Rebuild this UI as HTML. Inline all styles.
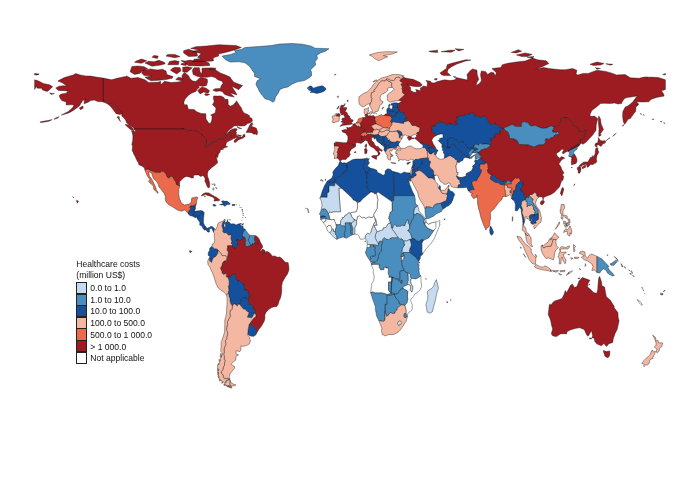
<!DOCTYPE html>
<html><head><meta charset="utf-8"><title>Healthcare costs map</title>
<style>
html,body{margin:0;padding:0;background:#fff}
body{width:700px;height:480px;position:relative;overflow:hidden;font-family:"Liberation Sans",Arial,sans-serif;color:#111}
svg{position:absolute;left:0;top:0}
path{stroke:#111;stroke-width:0.4;stroke-linejoin:round}
.a{fill:#c6dbef}
.b{fill:#4a8dbf}
.c{fill:#14509c}
.d{fill:#f4b8a2}
.e{fill:#ea6a4b}
.f{fill:#9c1c22}
.n{fill:#ffffff}
.ttl{position:absolute;left:76.3px;top:259.3px;font-size:8.55px;line-height:10.8px;white-space:nowrap}
.sw{position:absolute;left:76.2px;width:10.6px;height:12.15px;border:0.5px solid #222;box-sizing:border-box}
.lb{position:absolute;left:90.3px;font-size:8.55px;line-height:12px;white-space:nowrap}
</style></head><body>
<svg width="700" height="480" viewBox="0 0 700 480">
<path class="f" d="M103.0,78.1L103.0,101.1L106.1,101.6L109.1,104.3L112.6,102.3L116.1,105.8L119.1,110.2L122.2,111.9L122.1,114.1L121.7,115.9L124.0,117.9L125.7,120.3L126.6,122.8L128.4,124.5L131.9,126.5L134.2,128.2L134.0,129.0L183.3,129.0L183.3,128.0L184.1,129.2L186.5,130.0L187.9,130.5L189.7,131.2L190.9,130.9L193.0,131.4L195.1,130.7L201.3,134.2L201.8,135.1L202.7,135.1L203.5,136.1L203.7,136.9L205.5,138.1L206.0,142.3L205.6,143.8L205.5,144.8L204.4,145.5L204.4,146.3L205.6,147.0L208.1,145.8L211.6,144.3L211.8,143.8L211.2,142.6L212.1,142.3L215.4,142.3L216.1,141.1L218.1,139.3L219.1,138.8L224.7,138.8L224.9,138.4L226.0,137.9L226.8,136.6L227.4,134.7L228.8,132.8L230.3,132.9L231.2,133.7L231.2,137.1L232.6,138.6L234.4,138.4L235.2,138.1L237.3,136.9L237.0,138.1L234.7,139.8L234.0,141.3L234.7,142.6L236.1,142.1L238.7,139.8L243.1,138.1L245.2,136.4L244.4,133.9L243.1,135.1L242.3,137.1L239.6,136.9L238.2,136.4L237.0,135.9L236.1,133.9L236.5,131.9L234.4,131.4L235.6,131.4L237.3,129.5L236.1,128.5L232.6,129.0L230.0,130.5L227.4,133.2L225.3,134.4L226.5,133.2L228.2,130.9L230.0,129.0L231.7,128.2L233.7,126.0L237.9,125.8L241.4,126.0L244.9,125.8L247.5,123.5L250.5,122.8L252.4,121.1L251.9,118.3L249.8,117.4L249.3,115.4L246.6,114.1L244.0,112.9L242.3,110.4L241.4,108.0L239.6,105.5L237.9,103.0L236.5,100.8L235.6,102.3L233.5,104.8L230.3,106.2L228.2,104.8L228.2,102.3L227.9,99.3L224.7,99.3L223.9,97.4L220.9,95.9L217.7,96.1L213.7,95.9L213.3,98.1L214.2,101.8L212.5,104.8L216.0,108.0L215.6,110.4L215.1,112.9L210.7,114.9L212.1,116.6L211.8,120.3L210.4,123.5L208.8,123.3L208.1,122.1L206.0,119.1L205.8,113.7L201.1,113.4L196.7,111.7L194.1,109.5L188.3,109.2L187.1,104.8L184.1,104.8L183.9,101.8L185.3,98.8L188.8,94.9L191.4,93.2L195.8,91.4L197.6,88.7L199.3,87.5L198.5,85.7L202.8,86.2L206.3,85.7L207.6,82.0L207.2,79.1L202.0,77.6L200.2,77.6L195.8,81.5L192.3,80.8L189.7,78.3L188.8,75.9L184.4,72.2L181.8,75.9L182.7,78.3L181.8,81.3L178.3,82.0L171.3,82.5L164.3,81.3L160.8,85.0L160.8,81.5L157.3,82.3L148.5,82.5L145.0,79.8L138.0,77.6L131.0,78.3L126.6,75.9L125.7,76.4L117.0,78.3L111.7,79.8ZM133.8,130.5L130.1,129.2L125.2,124.8L126.1,124.3L130.5,126.0L133.1,128.5ZM120.5,121.6L117.0,116.9L119.1,116.4L119.4,119.1ZM246.1,132.4L247.9,129.0L250.1,124.5L252.1,122.5L252.8,124.5L251.0,126.5L252.8,126.7L256.3,128.2L257.1,130.2L257.7,132.7L256.8,134.9L255.4,133.9L253.6,134.2L251.9,132.7L249.3,132.4ZM237.3,134.7L241.4,135.4L240.5,136.4L237.9,135.6ZM237.0,126.7L241.7,128.7L238.7,128.2ZM242.6,85.5L238.7,89.7L234.4,87.5L231.7,86.2L236.1,93.2L237.0,94.9L230.0,92.7L234.4,97.1L229.1,96.1L224.7,94.4L222.1,91.4L219.5,90.9L216.0,91.4L212.8,90.2L215.1,88.7L220.4,88.5L221.2,85.7L223.0,83.3L222.1,81.3L217.7,79.8L215.1,77.6L211.6,76.6L206.3,77.3L201.1,77.1L197.6,76.4L193.2,74.6L192.3,70.2L194.1,67.7L199.3,67.7L200.2,72.2L202.0,73.4L202.0,68.2L206.3,68.0L209.0,68.0L213.3,68.2L216.0,70.2L220.4,72.9L225.6,75.1L230.0,77.1L231.7,79.6L233.5,82.0L237.9,83.8ZM147.6,79.1L151.1,80.8L159.0,80.3L166.0,79.6L172.2,78.3L173.0,76.6L166.9,74.6L166.0,70.9L162.5,69.2L157.3,69.9L150.3,68.9L143.3,70.4L141.5,73.1L144.1,75.6L152.0,76.1L145.0,77.3ZM134.5,74.4L130.1,71.7L131.9,66.5L138.0,66.0L144.1,66.7L147.6,68.7L142.4,70.9L139.8,73.4ZM145.0,63.0L152.0,66.2L160.8,65.0L165.2,63.8L164.3,62.3L159.0,60.3L153.8,61.8L148.5,61.3ZM134.5,62.3L141.5,63.3L146.8,60.8L141.5,59.1L136.3,61.0ZM167.8,64.7L178.3,64.7L179.2,61.5L174.8,60.6L169.5,61.5ZM180.9,64.7L186.2,65.5L186.2,63.8L181.8,63.3ZM170.4,70.2L176.6,73.9L180.9,70.9L180.1,67.7L174.8,67.2L172.2,68.5ZM182.7,71.7L187.1,72.2L192.3,67.7L187.1,66.7L182.7,67.2ZM175.7,79.6L181.8,80.8L182.7,78.1L178.3,77.3ZM180.9,60.6L188.8,65.7L201.1,66.0L209.8,65.5L209.0,63.0L204.6,61.3L194.1,61.3L190.6,60.1L185.3,61.0ZM192.3,61.5L202.8,61.5L213.3,61.0L213.3,57.8L218.6,56.1L218.6,54.1L227.4,51.9L234.4,49.9L241.4,47.5L236.1,45.5L218.6,44.7L206.3,46.0L195.8,46.7L190.6,48.4L199.3,49.9L192.3,51.2L201.1,53.6L197.6,57.3L201.1,58.6L194.1,59.3ZM183.6,52.9L188.8,56.6L197.6,56.1L196.7,52.4L188.8,49.2L183.6,50.7ZM166.0,56.1L174.8,57.8L180.1,56.6L174.8,54.4L167.8,54.4ZM152.0,57.3L157.3,58.6L158.2,56.1L153.8,55.4ZM197.6,90.7L200.2,93.9L203.7,91.9L208.1,93.2L209.5,90.7L206.3,88.2L202.0,87.0L200.2,88.2ZM204.6,94.9L207.2,95.6L209.8,94.4L205.5,93.6ZM209.8,68.0L216.0,68.2L215.1,69.9L209.8,69.9Z"/>
<path class="f" d="M134.0,129.0L183.3,129.0L183.3,128.0L184.1,129.2L186.5,130.0L187.9,130.5L189.7,131.2L190.9,130.9L193.0,131.4L195.1,130.7L201.3,134.2L201.8,135.1L202.7,135.1L203.5,136.1L203.7,136.9L205.5,138.1L206.0,142.3L205.6,143.8L205.5,144.8L204.4,145.5L204.4,146.3L205.6,147.0L208.1,145.8L211.6,144.3L211.8,143.8L211.2,142.6L212.1,142.3L215.4,142.3L216.1,141.1L218.1,139.3L219.1,138.8L224.7,138.8L224.9,138.4L226.0,137.9L226.8,136.6L227.4,134.7L228.8,132.8L230.3,132.9L231.2,133.7L231.2,137.1L232.6,138.6L232.6,139.3L230.0,140.6L227.4,141.8L226.1,143.5L226.0,144.8L225.6,145.5L226.3,146.5L227.4,146.3L227.4,147.0L225.3,147.5L223.9,148.0L220.9,148.7L223.9,149.0L220.7,149.7L220.4,150.2L220.0,152.2L218.8,153.7L217.7,152.4L218.4,154.2L218.1,156.1L216.8,158.6L216.3,154.9L216.0,158.1L217.0,159.6L217.7,162.8L216.0,164.3L213.5,166.3L211.6,167.7L209.8,169.5L208.1,171.0L207.4,173.9L207.6,176.4L208.8,179.6L209.8,183.8L209.5,187.3L208.3,188.0L206.9,186.0L206.2,183.8L204.9,181.3L205.1,178.4L203.7,176.1L202.5,175.7L200.6,176.6L198.5,174.9L195.8,174.9L193.5,175.2L193.4,177.9L191.4,177.9L189.2,176.9L186.2,176.4L184.1,177.4L181.8,179.6L179.7,181.8L179.5,184.5L179.8,185.9L176.4,184.8L175.7,182.1L174.3,180.1L172.3,176.4L170.1,176.6L169.2,178.4L166.9,176.9L166.2,174.4L163.6,171.6L160.4,171.5L160.4,172.6L155.4,172.6L148.9,169.7L149.0,169.2L144.8,169.7L144.5,168.0L142.6,166.5L141.2,165.8L138.9,164.8L138.5,163.1L136.4,159.6L135.4,156.9L134.5,155.4L133.1,152.4L132.1,150.2L132.6,146.8L131.9,144.3L132.8,140.1L132.9,135.9L132.6,134.2L131.5,130.5L134.2,130.9L135.6,133.2L135.2,130.2ZM103.0,78.1L103.0,101.1L106.1,101.6L109.1,104.3L112.6,102.3L116.1,105.8L119.1,110.2L122.2,111.9L122.1,114.1L119.6,114.4L116.1,113.7L113.8,110.4L111.2,107.2L110.0,105.8L107.3,103.8L104.7,102.5L102.1,101.8L97.7,101.6L94.2,100.1L90.7,100.6L88.1,102.3L84.0,103.8L84.6,99.8L86.3,98.8L82.8,100.6L81.1,103.0L79.8,105.5L76.7,108.0L73.2,110.4L68.8,112.9L65.3,114.1L61.3,115.1L64.4,113.4L67.9,111.7L72.3,108.0L74.1,105.3L72.3,104.8L69.7,104.8L66.2,105.0L66.2,102.0L61.8,100.6L60.0,98.1L59.2,95.6L61.3,94.1L66.2,93.2L67.9,90.9L64.4,90.7L58.3,90.4L55.7,88.0L59.2,86.2L63.5,85.7L67.1,86.0L64.4,84.3L61.8,82.5L57.8,81.1L60.0,79.8L64.4,77.6L67.9,76.4L73.2,75.1L75.6,73.6L80.2,74.9L85.4,75.9L90.7,76.1L96.0,77.1ZM79.3,108.0L82.8,106.0L83.2,108.2L80.5,109.7ZM59.2,116.6L55.7,118.1L53.9,119.3L57.4,118.3ZM52.2,119.6L47.8,120.6L44.3,121.1L39.9,122.1L41.6,122.5L48.7,121.3ZM49.5,92.9L52.2,93.6L54.3,93.6L51.3,94.4ZM76.7,200.1L78.6,201.6L77.2,203.2L76.7,201.3ZM72.8,196.6L73.7,197.4L73.0,197.4Z"/>
<path class="e" d="M144.8,169.7L149.0,169.2L148.9,169.7L155.4,172.6L160.4,172.6L160.4,171.5L163.6,171.6L166.2,174.4L166.9,176.9L169.2,178.4L170.1,176.6L172.3,176.4L174.3,180.1L175.7,182.1L176.4,184.8L179.8,185.9L178.8,189.5L178.7,194.4L179.5,198.6L181.1,202.3L182.2,203.8L184.4,205.0L187.1,204.6L188.8,204.1L190.6,203.3L191.4,201.1L191.6,198.6L191.8,198.1L194.1,197.4L196.7,196.9L197.9,197.6L196.9,200.1L196.7,201.8L196.2,204.8L195.6,204.3L195.3,204.3L193.8,206.0L190.6,206.0L190.6,207.4L189.8,207.4L191.5,210.3L189.3,210.3L188.5,212.3L188.5,214.1L185.7,210.7L184.4,210.0L181.8,211.2L178.7,210.6L175.3,208.8L172.2,206.5L168.7,204.8L166.0,201.8L165.2,199.6L165.5,196.9L164.3,193.7L161.7,190.0L159.0,187.0L158.2,184.1L156.4,181.3L153.8,178.9L152.4,175.9L151.7,172.9L149.0,171.7L148.9,173.4L149.4,175.9L152.0,179.6L153.8,183.3L155.5,187.0L156.4,190.0L158.2,192.4L157.5,193.4L156.8,192.0L153.8,189.5L153.3,185.8L150.3,183.3L148.5,181.3L149.9,179.4L147.3,175.9L145.7,172.2Z"/>
<path class="c" d="M188.5,214.1L188.5,212.3L189.3,210.3L191.5,210.3L189.8,207.4L190.6,207.4L190.6,206.0L193.8,206.0L193.8,210.7L194.2,210.7L195.4,211.2L193.8,213.7L193.5,214.4L192.1,216.0L190.0,215.7Z"/>
<path class="c" d="M195.3,204.3L195.6,204.3L195.6,206.8L195.3,209.2L194.2,210.7L193.8,210.7L193.8,206.0Z"/>
<path class="c" d="M192.1,216.0L193.5,214.4L194.9,215.5L196.2,215.7L196.2,216.9L196.2,217.4L194.9,217.5L193.5,216.8Z"/>
<path class="c" d="M195.4,211.2L196.7,210.9L199.3,210.7L201.1,210.5L202.8,211.0L204.2,212.9L202.0,213.7L200.2,215.4L199.0,215.9L198.1,217.1L197.1,217.9L196.2,216.9L196.2,215.7L194.9,215.5L193.5,214.4L193.8,213.7Z"/>
<path class="c" d="M204.2,212.9L203.9,215.4L203.5,219.1L203.4,221.6L203.4,223.0L201.6,222.8L199.9,222.6L198.5,220.4L197.1,218.4L197.1,217.9L198.1,217.1L199.0,215.9L200.2,215.4L202.0,213.7Z"/>
<path class="c" d="M203.4,223.0L204.6,225.3L205.3,226.4L204.8,227.8L204.8,230.1L203.4,228.8L203.5,229.3L202.0,226.5L201.1,225.5L199.7,225.1L199.9,222.6L201.6,222.8Z"/>
<path class="c" d="M205.3,226.4L207.2,228.3L209.8,227.3L210.7,226.3L212.5,226.8L214.4,228.6L213.5,232.2L212.6,230.2L211.6,228.0L210.4,228.8L209.1,229.7L209.8,231.7L208.3,232.2L206.9,231.2L206.0,229.7L204.8,230.1L204.8,227.8Z"/>
<path class="f" d="M201.2,196.0L202.8,193.9L205.5,192.8L209.0,192.9L211.6,194.7L214.2,196.2L216.8,197.6L220.0,200.1L218.6,200.8L213.9,201.0L214.7,199.1L212.5,196.9L209.0,195.7L206.7,195.2L206.0,194.2L203.7,195.2ZM204.4,196.2L205.3,195.9L205.1,196.9Z"/>
<path class="c" d="M212.7,204.8L214.2,204.3L216.3,205.5L214.7,206.3L213.0,205.5Z"/>
<path class="c" d="M219.6,204.7L221.2,204.1L223.2,204.2L222.5,202.8L221.4,201.3L223.0,200.7L224.3,201.3L224.4,203.8L224.3,205.4L223.0,205.0Z"/>
<path class="c" d="M224.3,201.3L226.5,201.1L227.5,201.5L228.8,202.3L230.3,204.1L229.1,204.6L227.4,204.6L226.3,205.0L224.9,206.5L224.3,205.4L224.4,203.8Z"/>
<path class="c" d="M232.3,204.3L235.1,204.6L234.9,205.5L232.3,205.7Z"/>
<path class="n" d="M213.0,188.0L213.9,188.0L213.9,190.2L212.8,190.0ZM211.8,184.1L213.5,184.1L212.5,184.5ZM214.4,183.6L215.1,184.8L214.7,186.0ZM215.6,187.0L216.5,187.8L216.5,189.0Z"/>
<path class="c" d="M241.6,225.1L243.3,223.3L243.1,225.1Z"/>
<path class="b" d="M273.1,102.3L269.4,100.1L265.0,98.8L262.4,95.6L259.4,91.4L258.0,88.2L255.9,84.5L257.1,80.8L260.6,78.8L254.5,76.4L254.5,73.4L251.9,69.7L249.3,66.0L244.9,62.8L239.6,61.8L230.0,62.0L225.6,59.8L223.0,57.3L222.1,56.1L230.9,54.4L236.1,52.4L234.4,50.4L241.4,49.4L244.9,47.5L258.9,46.5L271.2,45.5L279.9,44.0L292.2,43.5L302.7,44.2L311.5,46.2L315.0,48.2L329.0,48.7L325.5,51.2L320.2,53.1L316.7,55.4L317.6,58.6L315.0,61.8L315.8,64.7L313.2,67.2L310.6,69.7L311.5,72.2L311.5,75.9L308.8,78.1L304.4,80.6L297.4,81.8L292.2,84.0L287.8,87.0L283.4,88.0L279.9,89.4L278.2,93.2L275.5,96.9L274.7,100.6Z"/>
<path class="c" d="M307.1,88.2L309.7,86.0L311.5,86.0L313.2,88.2L317.6,86.7L322.0,85.7L324.4,87.0L326.2,89.0L324.6,90.9L321.1,92.4L316.7,93.4L313.2,92.4L310.2,92.4L311.5,91.2L308.0,89.7L311.5,89.2Z"/>
<path class="d" d="M214.4,228.6L215.4,230.2L216.3,228.0L217.5,226.3L217.7,223.8L219.0,222.6L220.0,222.1L222.1,221.6L223.9,219.9L225.1,219.2L225.4,220.4L225.0,220.7L223.9,221.3L223.0,222.6L222.1,225.8L222.5,227.5L223.2,229.3L223.0,231.5L223.9,232.7L226.1,232.5L228.4,234.9L231.8,234.7L231.2,236.9L231.1,238.9L232.1,241.6L231.1,243.1L232.3,244.1L232.8,247.0L232.8,247.0L232.4,245.8L230.5,245.7L227.6,245.8L227.6,247.4L228.8,247.5L227.3,248.6L227.3,250.4L228.1,251.2L228.4,252.7L227.4,260.4L227.4,260.4L226.1,259.4L227.3,256.7L224.7,255.6L222.1,255.7L220.4,252.7L218.2,250.3L218.2,250.3L216.3,249.0L214.4,249.0L213.0,247.8L211.9,246.5L212.3,244.1L213.9,243.6L214.7,240.6L214.2,236.4L214.4,233.7L213.5,232.2Z"/>
<path class="c" d="M225.0,220.7L224.6,223.0L223.9,225.3L224.7,227.5L225.6,226.8L225.3,223.8L224.7,223.0L227.0,221.8L227.4,219.9L227.7,221.6L230.3,223.1L230.5,224.1L234.0,223.8L236.1,225.1L237.9,224.1L240.5,223.6L241.6,223.6L240.0,224.3L240.5,225.3L243.1,226.5L243.5,228.8L244.9,229.0L245.2,229.5L243.7,231.5L242.8,233.5L242.4,235.3L243.6,237.2L243.6,237.2L241.4,239.9L240.0,240.9L237.9,239.9L236.8,239.9L237.5,241.8L237.5,243.8L238.9,244.6L237.8,245.9L235.4,248.1L233.8,248.1L232.8,247.0L232.8,247.0L232.3,244.1L231.1,243.1L232.1,241.6L231.1,238.9L231.2,236.9L231.8,234.7L228.4,234.9L226.1,232.5L223.9,232.7L223.0,231.5L223.2,229.3L222.5,227.5L222.1,225.8L223.0,222.6L223.9,221.3L225.0,220.7Z"/>
<path class="b" d="M245.2,229.5L247.5,232.7L249.1,234.4L249.9,235.3L249.6,237.2L248.6,238.6L248.4,240.4L249.1,241.7L249.8,243.1L251.0,245.3L251.0,245.3L248.4,246.3L246.8,246.9L245.4,245.4L245.0,243.6L245.7,240.4L245.1,238.9L244.6,237.2L243.6,237.2L243.6,237.2L242.4,235.3L242.8,233.5L243.7,231.5L245.2,229.5Z"/>
<path class="b" d="M249.9,235.3L251.9,235.6L253.6,235.3L255.4,235.7L254.7,237.7L254.6,240.1L255.4,241.4L254.3,244.2L254.3,244.2L252.1,243.8L252.0,245.4L251.0,245.3L251.0,245.3L249.8,243.1L249.1,241.7L248.4,240.4L248.6,238.6L249.6,237.2L249.9,235.3Z"/>
<path class="f" d="M255.4,235.7L257.1,236.4L258.4,237.9L259.4,239.4L259.5,240.0L258.4,242.1L257.3,244.6L254.3,244.2L254.3,244.2L255.4,241.4L254.6,240.1L254.7,237.7L255.4,235.7Z"/>
<path class="f" d="M259.5,240.0L260.6,242.6L262.4,245.6L262.6,247.5L260.6,249.8L259.8,251.5L261.3,250.7L261.9,249.5L263.1,249.3L265.2,250.7L264.9,253.2L262.8,254.2L264.3,254.0L265.2,253.0L265.9,251.7L267.7,251.5L270.3,253.5L272.4,256.2L274.7,255.9L277.3,257.2L279.9,257.0L282.5,259.1L284.8,261.9L288.2,262.8L288.9,267.5L288.9,270.0L287.5,274.0L285.2,277.2L282.5,282.1L281.7,285.8L281.7,290.8L281.3,294.5L280.4,298.4L279.4,300.1L278.2,304.3L276.4,306.7L274.3,306.7L271.7,307.6L268.9,309.3L266.1,312.2L264.9,314.7L264.9,318.2L264.5,320.6L262.4,324.6L260.6,327.3L258.7,329.5L256.5,333.4L256.3,331.8L256.8,330.8L254.5,327.8L252.6,326.2L250.5,324.3L249.1,324.6L249.1,324.6L251.9,320.4L252.4,319.7L254.0,317.9L255.7,317.1L256.0,314.7L254.3,313.2L254.3,313.2L254.9,309.5L252.9,309.2L252.6,305.8L251.0,304.6L248.6,304.6L248.6,301.3L248.1,299.8L248.1,299.8L249.3,295.0L247.7,292.5L247.8,290.3L244.5,290.1L244.4,287.3L244.0,284.1L241.7,283.3L239.6,281.2L237.2,280.8L235.6,278.4L235.6,276.9L235.4,274.0L233.3,274.5L229.8,277.4L228.1,277.0L228.1,277.0L226.3,277.2L226.4,273.3L223.5,274.7L223.3,273.5L221.8,273.2L222.2,272.2L220.4,268.3L220.9,267.0L221.8,266.1L222.5,262.7L224.0,261.1L226.0,260.4L227.4,260.4L227.4,260.4L228.4,252.7L228.1,251.2L227.3,250.4L227.3,248.6L228.8,247.5L227.6,247.4L227.6,245.8L230.5,245.7L232.4,245.8L232.8,247.0L232.8,247.0L233.8,248.1L235.4,248.1L237.8,245.9L238.9,244.6L237.5,243.8L237.5,241.8L236.8,239.9L237.9,239.9L240.0,240.9L241.4,239.9L243.6,237.2L243.6,237.2L244.6,237.2L245.1,238.9L245.7,240.4L245.0,243.6L245.4,245.4L246.8,246.9L248.4,246.3L251.0,245.3L251.0,245.3L252.0,245.4L252.1,243.8L254.3,244.2L254.3,244.2L257.3,244.6L258.4,242.1L259.5,240.0Z"/>
<path class="c" d="M211.9,246.5L209.7,248.0L209.7,250.2L208.3,252.6L208.2,255.4L209.8,256.2L209.3,258.4L209.2,258.4L209.5,260.6L210.9,262.1L211.6,262.4L212.6,259.4L213.7,257.4L215.8,256.4L217.6,253.8L218.2,250.3L218.2,250.3L216.3,249.0L214.4,249.0L213.0,247.8L211.9,246.5ZM189.5,250.7L190.6,250.7L190.9,252.5L189.9,252.5ZM191.4,251.2L192.0,251.2L191.8,252.0Z"/>
<path class="d" d="M209.2,258.4L207.6,260.9L208.1,264.8L210.0,267.0L210.7,269.3L212.3,272.5L213.9,276.7L214.8,279.8L216.3,284.3L218.2,288.0L221.2,290.3L223.9,292.2L225.8,294.0L226.7,295.3L228.2,293.2L228.2,293.2L229.1,290.3L228.8,287.8L228.4,286.6L229.3,285.1L229.3,281.1L228.1,277.0L228.1,277.0L226.3,277.2L226.4,273.3L223.5,274.7L223.3,273.5L221.8,273.2L222.2,272.2L220.4,268.3L220.9,267.0L221.8,266.1L222.5,262.7L224.0,261.1L226.0,260.4L227.4,260.4L227.4,260.4L226.1,259.4L227.3,256.7L224.7,255.6L222.1,255.7L220.4,252.7L218.2,250.3L218.2,250.3L217.6,253.8L215.8,256.4L213.7,257.4L212.6,259.4L211.6,262.4L210.9,262.1L209.5,260.6L209.2,258.4Z"/>
<path class="c" d="M228.2,293.2L229.1,290.3L228.8,287.8L228.4,286.6L229.3,285.1L229.3,281.1L228.1,277.0L228.1,277.0L229.8,277.4L233.3,274.5L235.4,274.0L235.6,276.9L235.6,278.4L237.2,280.8L239.6,281.2L241.7,283.3L244.0,284.1L244.4,287.3L244.5,290.1L247.8,290.3L247.7,292.5L249.3,295.0L248.1,299.8L248.1,299.8L246.5,297.7L241.9,298.4L240.9,300.6L240.2,305.0L240.2,305.0L240.0,304.3L238.0,304.3L237.2,306.2L235.8,304.6L233.8,303.8L232.3,306.3L232.3,306.3L230.5,303.1L230.0,300.9L230.0,298.2L229.1,296.9L228.9,295.0L228.2,293.2Z"/>
<path class="c" d="M254.3,313.2L254.9,309.5L252.9,309.2L252.6,305.8L251.0,304.6L248.6,304.6L248.6,301.3L248.1,299.8L248.1,299.8L246.5,297.7L241.9,298.4L240.9,300.6L240.2,305.0L240.2,305.0L243.1,308.8L244.9,309.3L247.0,311.3L249.1,312.5L247.3,317.3L251.2,317.7L252.1,317.6L254.3,313.2Z"/>
<path class="c" d="M256.5,333.4L256.3,331.8L256.8,330.8L254.5,327.8L252.6,326.2L250.5,324.3L249.1,324.6L249.1,324.6L248.7,326.6L248.2,329.0L248.0,331.5L247.7,333.7L248.7,335.2L251.5,336.2L253.8,336.3L255.7,335.0Z"/>
<path class="d" d="M232.3,306.3L233.8,303.8L235.8,304.6L237.2,306.2L238.0,304.3L240.0,304.3L240.2,305.0L240.2,305.0L243.1,308.8L244.9,309.3L247.0,311.3L249.1,312.5L247.3,317.3L251.2,317.7L252.1,317.6L254.3,313.2L254.3,313.2L256.0,314.7L255.7,317.1L254.0,317.9L252.4,319.7L251.9,320.4L249.1,324.6L249.1,324.6L248.7,326.6L248.2,329.0L248.0,331.5L247.7,333.7L247.7,335.2L249.8,337.4L249.6,339.4L250.7,340.2L249.3,343.9L246.6,345.6L243.1,346.3L241.0,345.8L240.9,350.0L240.0,351.5L236.1,350.8L236.1,353.7L238.6,355.0L236.1,356.2L235.6,360.2L233.5,361.6L231.7,363.6L231.7,364.9L234.7,366.6L234.5,368.3L231.7,371.5L230.0,374.0L229.1,377.2L230.1,379.2L228.2,378.8L227.4,378.4L224.0,378.4L223.2,377.5L223.3,375.2L221.8,374.0L221.2,371.8L222.8,369.8L223.3,367.1L224.4,365.3L224.6,362.4L225.1,360.7L224.2,359.2L224.4,356.7L223.7,354.5L224.2,352.0L224.0,349.3L224.9,346.3L225.8,344.4L225.4,340.6L226.7,339.2L226.7,336.9L227.7,334.5L227.5,332.3L226.5,330.0L226.8,327.1L227.5,324.6L227.5,321.6L228.8,318.9L230.3,316.4L229.8,312.7L230.2,310.5L232.1,309.3L232.3,306.3ZM229.8,380.0L229.8,385.6L233.5,386.0L235.9,385.0L233.5,384.1L231.2,382.9L230.3,380.9Z"/>
<path class="d" d="M226.7,295.3L228.2,293.2L228.2,293.2L228.9,295.0L229.1,296.9L230.0,298.2L230.0,300.9L230.5,303.1L232.3,306.3L232.3,306.3L232.1,309.3L230.2,310.5L229.8,312.7L230.3,316.4L228.8,318.9L227.5,321.6L227.5,324.6L226.8,327.1L226.5,330.0L227.5,332.3L227.7,334.5L226.7,336.9L226.7,339.2L225.4,340.6L225.8,344.4L224.9,346.3L224.0,349.3L224.2,352.0L223.7,354.5L224.4,356.7L224.2,359.2L225.1,360.7L224.6,362.4L224.4,365.3L223.3,367.1L222.8,369.8L221.2,371.8L221.8,374.0L223.3,375.2L223.2,377.5L224.0,378.4L227.4,378.4L228.2,378.8L230.1,379.2L228.2,379.7L226.0,380.4L225.8,382.4L225.1,383.1L223.0,381.7L221.2,380.4L219.1,378.9L218.1,374.7L217.7,371.0L217.5,365.3L219.5,363.1L220.4,358.7L222.1,355.0L222.5,353.0L220.7,351.3L220.9,348.6L221.2,345.1L221.1,341.9L221.9,340.6L222.8,337.7L224.0,334.0L224.6,331.5L224.7,327.8L224.9,324.1L224.7,320.4L225.8,316.7L226.5,312.7L226.7,308.0L227.0,304.3L227.1,299.9ZM229.8,380.0L226.7,380.4L225.8,382.9L223.9,384.4L227.4,386.3L229.8,385.6ZM227.4,386.6L230.9,386.3L232.1,388.2L229.1,387.3ZM220.0,357.0L220.9,353.2L221.4,354.5L221.1,357.2Z"/>
<path class="d" d="M219.0,359.2L220.0,360.2L219.3,361.6ZM218.2,363.4L219.3,364.1L218.4,365.1ZM217.9,368.8L219.1,369.5L218.1,371.0ZM217.9,372.0L219.0,373.0L217.9,374.5ZM218.2,375.5L219.3,376.5L218.4,377.7ZM219.3,379.4L220.7,380.2L219.7,381.2ZM221.8,381.7L223.2,382.6L221.8,383.4ZM223.9,384.1L225.6,384.6L224.2,385.6ZM226.5,385.6L228.8,385.9L227.4,386.8ZM229.1,386.6L231.7,386.6L230.3,387.6Z"/>
<path class="f" d="M652.2,119.1L653.8,119.2L653.1,119.8ZM660.5,121.3L661.9,121.6L661.0,122.1ZM663.6,122.8L664.8,123.0L664.1,123.5Z"/>
<path class="c" d="M241.7,209.7L242.8,209.5L242.3,210.6ZM242.8,213.3L243.4,213.7L243.1,214.3ZM242.3,211.5L242.7,211.7L242.5,212.3ZM243.0,215.3L243.3,215.7L243.0,216.0ZM245.5,217.1L245.8,217.5L245.6,217.8ZM241.8,219.9L242.1,220.1L241.8,220.4ZM242.7,217.0L242.9,217.3L242.7,217.5ZM239.9,207.0L240.3,207.3L240.1,207.6ZM241.6,207.6L241.9,207.8L241.6,208.0ZM239.4,204.9L239.7,205.0L239.5,205.3ZM236.3,204.6L236.8,204.7L236.5,204.8ZM228.8,219.4L229.5,219.9L229.1,220.1ZM230.2,219.6L230.5,220.1L230.3,220.2ZM227.3,218.9L227.5,219.2L227.4,219.4Z"/>
<path class="d" d="M369.4,104.0L368.4,103.8L366.6,104.8L364.0,106.5L362.3,106.7L359.8,104.8L359.1,103.0L358.8,99.3L358.9,96.9L361.4,94.9L364.0,93.2L367.2,91.9L369.3,89.9L371.9,87.0L373.7,84.0L376.3,82.0L378.0,80.1L381.5,78.1L385.0,77.1L388.5,76.1L392.0,74.6L395.2,74.4L399.1,74.6L404.3,76.1L401.7,76.9L404.0,77.6L400.8,79.6L399.1,77.0L395.6,77.8L395.0,79.6L393.6,80.6L390.3,80.3L387.7,78.8L386.0,79.4L385.0,81.1L381.7,80.8L378.9,83.3L377.0,86.5L375.4,88.7L374.0,90.4L374.7,91.4L371.4,92.9L371.2,97.6L372.4,98.6L371.5,99.6L371.9,101.3L370.7,102.3L370.5,104.3ZM372.8,82.0L377.2,80.6L376.3,79.8L373.7,81.1ZM334.2,74.9L336.0,74.1L335.6,74.9ZM369.3,54.9L378.0,52.4L386.8,51.7L397.3,51.9L392.0,54.1L383.3,55.6L387.7,56.8L383.3,58.6L378.9,60.8L374.5,58.6L372.8,56.8Z"/>
<path class="d" d="M369.4,104.0L369.8,106.0L370.8,107.5L371.9,110.0L372.3,111.4L372.8,113.2L374.9,113.2L375.2,111.7L378.0,111.2L378.9,109.2L379.3,107.2L379.8,105.3L382.4,103.5L383.1,101.6L380.3,100.1L380.1,97.6L380.7,95.6L382.4,93.9L385.9,92.4L387.7,90.4L387.3,88.7L389.1,87.5L392.3,87.5L391.5,85.7L391.9,83.8L391.2,82.3L387.7,80.6L386.0,79.4L385.0,81.1L381.7,80.8L378.9,83.3L377.0,86.5L375.4,88.7L374.0,90.4L374.7,91.4L371.4,92.9L371.2,97.6L372.4,98.6L371.5,99.6L371.9,101.3L370.7,102.3L370.5,104.3ZM381.9,109.0L382.9,107.0L383.6,107.0L382.6,109.2Z"/>
<path class="d" d="M392.3,87.5L394.3,89.2L392.9,90.7L389.4,93.2L387.3,94.9L387.3,98.1L387.3,100.1L389.4,101.8L390.3,102.2L393.8,101.3L398.7,100.4L400.8,98.6L402.6,96.9L405.2,94.6L402.7,92.7L402.6,90.7L402.0,88.2L402.7,87.0L401.0,84.8L402.6,82.8L399.9,80.8L400.8,79.6L399.1,77.0L395.6,77.8L395.0,79.6L393.6,80.6L390.3,80.3L387.7,78.8L386.0,79.4L387.7,80.6L391.2,82.3L391.9,83.8L391.5,85.7Z"/>
<path class="d" d="M365.1,114.4L364.2,112.9L364.2,110.4L364.4,109.0L366.6,108.7L368.6,107.5L368.2,110.4L369.1,110.7L367.9,111.9L367.0,113.7L367.3,114.6ZM369.3,112.4L371.0,111.4L372.1,112.4L371.4,113.7L370.5,114.4L369.4,113.7ZM367.2,113.2L368.9,113.2L368.6,114.0L367.5,114.0ZM337.0,96.4L338.6,96.1L338.1,97.8ZM375.8,113.4L376.5,113.8L376.1,114.1Z"/>
<path class="f" d="M365.1,114.4L367.3,114.6L369.1,116.6L369.3,115.6L371.5,115.9L373.7,115.4L374.9,116.9L375.2,118.6L374.7,119.6L375.8,121.3L375.8,122.8L376.3,124.0L375.1,124.0L372.8,125.3L371.2,125.8L371.9,127.0L374.2,129.5L373.5,130.5L372.4,132.2L372.8,132.7L371.4,132.4L368.4,132.7L366.8,132.7L365.1,132.2L363.3,132.4L363.3,130.7L364.4,129.0L361.2,127.7L360.7,126.3L360.5,124.6L360.3,123.8L360.9,122.1L361.9,121.6L362.3,120.3L362.6,118.6L362.3,117.4L364.0,117.4L364.9,117.6L365.6,116.6L365.1,115.6Z"/>
<path class="e" d="M362.6,118.6L362.3,120.3L361.9,121.6L360.9,122.1L360.3,123.8L360.5,124.6L360.0,124.5L360.2,123.7L358.8,122.9L357.5,123.2L356.0,123.2L357.0,121.8L357.9,120.6L358.2,119.1L359.6,118.3L361.4,117.9Z"/>
<path class="d" d="M356.0,123.2L357.5,123.2L358.8,122.9L360.2,123.7L360.0,124.5L360.5,124.6L360.7,126.3L360.2,127.6L358.5,126.1L357.4,126.6L355.4,124.5L354.5,123.8Z"/>
<path class="d" d="M361.2,127.7L360.7,126.3L360.2,127.6Z"/>
<path class="f" d="M354.5,123.8L352.8,124.3L352.8,126.0L350.4,127.2L347.9,128.0L347.4,127.2L346.7,127.2L347.2,129.8L344.7,129.5L341.8,130.5L342.5,131.9L345.6,133.2L346.5,134.4L347.9,136.4L347.9,139.8L346.8,142.8L347.7,143.5L351.2,144.5L353.0,145.0L355.6,145.1L355.4,143.5L357.0,142.6L359.3,143.0L360.9,143.5L363.1,141.9L363.5,140.8L362.1,140.1L362.3,138.4L361.9,136.8L362.3,136.6L361.9,135.4L360.7,135.9L360.7,134.9L362.3,132.9L363.3,132.4L363.3,130.7L364.4,129.0L361.2,127.7L360.2,127.6L358.5,126.1L357.4,126.6L355.4,124.5ZM365.1,145.3L366.5,143.8L366.7,146.0L366.1,147.7L365.1,146.5Z"/>
<path class="f" d="M346.8,142.8L343.3,142.7L340.0,142.3L336.0,141.9L333.9,143.5L334.4,146.3L334.5,146.5L335.6,146.0L338.4,146.4L339.1,147.2L337.9,148.7L337.7,150.7L336.9,152.1L337.7,153.7L337.2,155.2L337.7,155.6L336.9,157.4L337.0,158.1L337.9,158.2L338.8,159.4L339.5,160.6L340.2,161.1L342.3,159.4L346.1,159.4L347.2,157.6L348.8,157.1L349.8,154.9L350.4,154.2L349.5,152.4L351.2,149.2L353.9,147.7L355.6,146.5L355.6,145.1L353.0,145.0L351.2,144.5L347.7,143.5ZM354.2,152.4L355.4,151.3L356.0,152.2L355.3,152.9ZM320.4,180.1L321.8,179.6L321.1,180.8ZM322.3,180.6L323.0,180.6L322.8,181.5ZM325.1,179.4L325.8,179.1L325.5,180.6Z"/>
<path class="d" d="M334.5,146.5L335.6,146.0L338.4,146.4L339.1,147.2L337.9,148.7L337.7,150.7L336.9,152.1L337.7,153.7L337.2,155.2L337.7,155.6L336.9,157.4L337.0,158.1L334.2,158.6L334.6,156.4L334.6,155.2L333.4,154.4L333.5,152.7L334.8,150.0Z"/>
<path class="f" d="M340.0,126.4L342.6,125.6L343.9,125.3L346.5,125.0L348.2,124.8L350.5,124.6L352.5,123.7L351.2,122.8L352.8,121.6L353.1,120.1L350.5,119.2L350.4,117.9L349.8,117.6L349.6,116.2L347.7,114.6L347.2,112.9L346.3,111.9L344.7,111.7L345.6,110.7L346.5,109.0L346.8,107.7L343.9,107.5L342.6,108.0L344.7,105.1L341.2,105.3L340.5,106.7L339.8,108.5L340.0,110.4L340.4,112.9L340.0,113.4L341.6,112.7L341.2,114.1L341.4,114.9L343.9,114.4L343.9,115.9L344.9,116.6L344.7,118.1L342.1,118.3L341.9,119.6L342.8,120.6L340.9,121.8L342.6,122.5L344.7,122.9L342.6,123.5ZM339.4,116.5L337.7,116.1L336.7,116.2L335.8,115.4L337.2,114.0L339.1,113.5L340.4,115.1ZM337.0,108.5L339.1,105.8L338.8,107.0L337.4,109.2ZM344.2,104.0L345.4,103.8L344.7,104.8ZM347.2,100.3L348.2,100.1L347.7,102.0Z"/>
<path class="d" d="M339.4,116.5L337.7,116.1L336.7,116.2L335.8,115.4L337.2,114.0L337.2,113.4L335.6,113.7L334.8,114.4L335.1,115.6L332.5,116.1L332.5,118.1L333.4,120.1L332.0,121.3L332.8,122.8L335.1,122.3L336.9,121.6L339.0,121.1L339.3,118.3Z"/>
<path class="e" d="M366.8,132.7L366.8,133.7L368.3,134.2L367.7,135.6L366.5,135.4L365.8,136.8L364.9,135.6L363.8,136.5L362.3,136.6L361.9,135.4L360.7,135.9L360.7,134.9L362.3,132.9L363.3,132.4L365.1,132.2Z"/>
<path class="d" d="M366.8,132.7L368.4,132.7L371.4,132.4L372.8,132.7L372.4,132.2L373.5,130.5L374.2,129.5L375.1,130.0L376.3,129.0L378.2,129.6L379.7,130.0L380.0,131.4L378.9,132.2L378.7,133.9L378.2,134.3L376.3,134.9L374.0,135.1L371.7,134.7L371.2,133.9L369.3,134.4L368.3,134.2L366.8,133.7Z"/>
<path class="f" d="M363.1,141.9L365.4,140.3L367.7,141.3L368.0,142.6L369.4,145.3L371.4,146.9L373.7,148.1L374.9,149.2L376.3,151.0L377.5,151.4L378.2,153.7L377.5,156.1L378.9,155.2L380.0,153.9L380.0,152.7L378.9,151.7L379.6,150.0L381.7,151.4L382.4,150.8L381.4,149.5L379.1,148.2L378.2,146.5L376.6,146.5L374.9,145.0L373.8,142.6L371.7,140.8L371.5,138.1L373.0,137.1L374.0,137.4L373.8,136.4L374.0,135.1L371.7,134.7L371.2,133.9L369.3,134.4L368.3,134.2L367.7,135.6L366.5,135.4L365.8,136.8L364.9,135.6L363.8,136.5L362.3,136.6L361.9,136.8L362.3,138.4L362.1,140.1L363.5,140.8ZM371.7,156.1L373.3,155.6L377.3,155.5L376.5,157.9L376.5,159.4L374.5,158.5L371.9,157.1ZM364.4,149.0L366.1,148.2L367.2,150.0L366.8,153.2L365.8,153.7L364.7,153.4L364.7,150.5Z"/>
<path class="e" d="M374.9,116.9L378.4,115.9L381.5,114.6L382.6,115.6L384.3,115.5L389.9,115.8L391.2,116.7L391.9,118.6L391.9,119.8L390.6,120.8L391.4,122.5L392.2,124.5L389.8,127.5L389.5,128.8L387.7,128.0L385.4,128.1L384.2,127.6L383.0,127.7L381.9,126.5L379.6,125.5L378.4,124.9L376.3,124.0L375.8,122.8L375.8,121.3L374.7,119.6L375.2,118.6Z"/>
<path class="d" d="M374.2,129.5L371.9,127.0L371.2,125.8L372.8,125.3L375.1,124.0L376.3,124.0L378.4,124.9L379.6,125.5L381.9,126.5L383.0,127.7L381.7,128.7L380.1,129.3L379.7,130.0L378.2,129.6L376.3,129.0L375.1,130.0Z"/>
<path class="d" d="M379.7,130.0L380.1,129.3L381.7,128.7L383.0,127.7L384.2,127.6L385.4,128.1L387.7,128.0L389.5,128.8L388.8,130.5L387.7,130.2L385.9,130.2L384.7,131.1L382.9,131.8L381.4,132.1L380.0,131.4Z"/>
<path class="d" d="M380.0,131.4L381.4,132.1L382.9,131.8L384.7,131.1L385.9,130.2L387.7,130.2L388.8,130.5L390.1,131.4L388.5,132.9L387.1,135.4L385.6,136.0L383.3,136.5L383.1,136.6L381.0,136.5L379.1,135.3L378.2,134.3L378.7,133.9L378.9,132.2Z"/>
<path class="c" d="M374.0,135.1L376.3,134.9L378.2,134.3L379.1,135.3L377.5,135.9L377.3,136.9L376.8,137.7L375.6,137.4L373.8,137.7L374.0,137.4L373.8,136.4Z"/>
<path class="c" d="M373.8,137.7L374.4,139.3L375.1,138.1L376.1,138.8L376.6,140.6L377.9,142.1L378.9,142.6L380.8,144.0L382.4,145.1L382.3,144.8L380.9,143.7L379.3,141.8L378.4,140.8L377.6,139.3L377.6,138.4L378.6,138.8L379.6,138.2L381.5,138.6L383.4,139.2L384.0,138.4L383.1,136.6L381.0,136.5L379.1,135.3L377.5,135.9L377.3,136.9L376.8,137.7L375.6,137.4Z"/>
<path class="c" d="M382.3,144.8L380.9,143.7L379.3,141.8L378.4,140.8L377.6,139.3L377.6,138.4L378.6,138.8L379.6,138.2L381.5,138.6L383.4,139.2L383.9,139.1L383.5,140.6L384.3,141.3L383.6,142.6L382.8,143.2Z"/>
<path class="c" d="M383.1,136.6L383.3,136.5L385.6,136.0L386.4,137.0L387.7,138.4L387.5,139.3L388.7,140.1L389.4,139.6L389.8,140.8L389.2,141.8L390.3,143.3L389.4,144.2L389.2,145.5L387.8,145.6L386.1,146.5L385.9,145.8L385.2,144.9L385.7,144.2L383.6,142.6L384.3,141.3L383.5,140.6L383.9,139.1L383.4,139.2L384.0,138.4Z"/>
<path class="c" d="M382.4,145.1L382.3,144.8L382.8,143.2L383.6,142.6L385.7,144.2L385.2,144.9L384.3,144.9L384.0,146.6L383.3,146.0Z"/>
<path class="c" d="M384.0,146.6L384.3,144.9L385.2,144.9L385.9,145.8L386.1,146.5L385.9,148.0L386.3,149.0L386.9,149.1L386.7,150.0L386.1,151.0L385.4,152.1L384.9,151.2L383.8,150.2L384.2,148.0Z"/>
<path class="c" d="M386.1,146.5L387.8,145.6L389.2,145.5L390.3,147.0L390.2,147.9L389.1,148.4L386.9,149.1L386.3,149.0L385.9,148.0Z"/>
<path class="d" d="M385.4,152.1L386.1,151.0L386.7,150.0L386.9,149.1L389.1,148.4L390.2,147.9L392.9,147.4L394.3,148.1L396.2,147.0L396.6,147.9L395.6,149.3L392.9,148.9L392.0,150.2L391.9,151.3L390.1,150.0L389.6,151.2L390.3,152.9L390.1,153.9L392.0,155.6L392.1,157.0L390.3,156.4L390.6,157.9L390.5,160.0L389.2,160.0L388.0,159.1L387.0,156.6L388.0,155.4L387.0,155.3L386.3,153.9ZM391.2,162.3L392.9,162.6L396.1,163.1L395.9,163.6L393.4,163.7L391.2,162.9ZM390.6,153.7L392.4,154.7L393.1,156.1L391.2,154.7ZM398.7,160.1L399.4,160.1L398.7,161.3ZM395.6,152.9L396.6,153.4L395.9,153.9Z"/>
<path class="c" d="M389.8,140.8L392.0,142.1L394.7,142.2L397.3,141.1L400.1,141.9L398.9,143.3L398.5,145.0L399.1,146.3L397.3,146.1L396.2,147.0L394.3,148.1L392.9,147.4L390.2,147.9L390.3,147.0L389.2,145.5L389.4,144.2L390.3,143.3L389.2,141.8Z"/>
<path class="d" d="M385.6,136.0L387.1,135.4L388.5,132.9L390.1,131.4L392.9,131.6L396.6,130.8L398.2,132.7L399.2,134.4L399.4,137.7L402.0,138.1L401.9,139.3L400.3,140.8L400.1,141.9L397.3,141.1L394.7,142.2L392.0,142.1L389.8,140.8L389.4,139.6L388.7,140.1L387.5,139.3L387.7,138.4L386.4,137.0Z"/>
<path class="c" d="M396.6,130.8L398.2,130.3L399.9,131.1L401.2,131.7L401.9,133.2L402.7,135.4L400.6,135.4L400.7,136.4L399.4,137.7L399.2,134.4L398.2,132.7Z"/>
<path class="d" d="M390.1,131.4L388.8,130.5L389.5,128.8L389.8,127.5L392.2,124.5L391.4,122.5L393.8,121.8L398.2,122.5L401.3,123.0L403.6,123.3L404.2,121.4L405.7,121.3L408.2,120.7L410.3,122.1L412.0,125.3L415.7,125.6L418.2,126.9L420.3,127.5L419.7,129.5L419.7,131.7L417.1,132.6L416.9,133.7L414.5,134.7L411.7,135.6L411.3,137.1L408.9,136.1L406.9,136.1L405.7,134.8L403.9,135.1L402.7,136.8L402.0,138.1L399.4,137.7L400.7,136.4L400.6,135.4L402.7,135.4L401.9,133.2L401.2,131.7L399.9,131.1L398.2,130.3L396.6,130.8L392.9,131.6Z"/>
<path class="f" d="M408.9,136.1L411.3,137.1L412.0,138.1L414.1,137.9L413.8,138.7L411.8,138.8L409.6,140.3L408.5,140.0L408.7,138.4L406.9,138.0L408.2,136.9Z"/>
<path class="c" d="M391.4,122.5L390.6,120.8L391.9,119.8L391.9,118.6L391.2,116.7L394.7,116.1L395.0,114.6L397.0,113.4L396.6,112.5L399.3,111.3L401.5,112.3L404.1,112.7L404.3,114.9L407.3,118.0L405.0,118.6L405.7,121.3L404.2,121.4L403.6,123.3L401.3,123.0L398.2,122.5L393.8,121.8Z"/>
<path class="c" d="M386.9,111.5L387.1,113.4L387.2,113.5L389.6,114.1L389.9,115.8L391.2,116.7L394.7,116.1L395.0,114.6L397.0,113.4L396.6,112.5L393.8,110.9L388.5,110.7Z"/>
<path class="f" d="M384.3,115.5L385.0,114.3L387.2,113.5L389.6,114.1L389.9,115.8Z"/>
<path class="c" d="M386.9,111.5L386.8,109.2L388.0,107.7L389.6,107.4L390.6,109.2L392.2,109.1L392.6,107.1L394.3,106.7L397.9,107.9L398.7,108.5L399.3,111.3L396.6,112.5L393.8,110.9L388.5,110.7Z"/>
<path class="c" d="M392.6,107.1L392.9,105.9L391.2,105.0L391.0,103.8L393.4,103.0L395.6,102.8L399.1,103.2L398.0,104.8L398.2,106.0L397.9,107.9L394.3,106.7ZM388.5,105.5L390.3,105.3L389.8,106.2L388.5,106.7ZM388.9,104.3L390.3,104.3L389.6,105.0Z"/>
<path class="d" d="M395.6,149.3L396.6,147.9L396.2,147.0L397.3,146.1L399.1,146.3L401.0,148.2L404.7,148.5L408.3,146.3L411.3,146.1L413.8,148.0L416.6,148.7L420.1,148.7L422.8,147.5L424.5,147.6L426.1,148.5L426.6,150.7L428.5,151.9L427.2,152.7L428.0,155.2L427.6,156.4L428.5,158.2L426.2,158.0L424.2,158.4L421.8,158.4L418.3,159.4L415.2,159.5L414.2,160.5L413.4,161.5L412.9,161.3L413.4,159.6L412.2,159.6L410.6,159.1L409.0,160.7L406.9,160.8L404.3,159.0L403.3,160.3L401.0,159.5L399.4,159.4L398.0,158.6L397.7,156.4L396.1,155.4L397.1,154.2L396.6,152.9L395.7,152.4L395.9,151.2L398.2,150.2L400.8,150.1L400.8,148.7L398.2,148.9L396.8,150.2Z"/>
<path class="c" d="M420.1,142.9L422.7,143.2L424.5,143.3L427.1,144.8L429.7,144.9L431.3,146.5L431.6,148.5L428.8,148.0L426.1,148.5L424.5,147.6L422.8,147.5L423.1,145.8L421.8,144.0Z"/>
<path class="c" d="M426.1,148.5L428.8,148.0L429.7,149.7L431.5,152.4L431.5,153.9L430.8,154.0L429.7,152.4L428.5,151.9L426.6,150.7Z"/>
<path class="c" d="M431.3,146.5L433.7,148.2L435.1,146.8L436.7,149.7L438.1,150.2L436.5,152.9L435.7,155.0L434.1,154.2L434.6,152.7L434.1,151.9L431.5,153.9L431.5,152.4L429.7,149.7L428.8,148.0L431.6,148.5ZM428.5,151.9L429.7,152.4L430.8,154.0L429.5,153.7Z"/>
<path class="c" d="M406.6,163.4L407.8,162.7L410.6,161.9L409.4,163.3L407.8,164.5Z"/>
<path class="f" d="M404.0,77.6L407.8,78.6L413.1,79.3L420.1,82.5L422.2,85.0L420.1,86.5L416.6,86.7L411.3,86.0L407.8,85.3L406.9,84.3L410.4,87.2L410.8,90.7L413.9,92.2L416.8,92.2L415.7,89.4L419.7,90.4L421.0,90.6L420.1,88.2L423.6,86.0L427.1,86.7L427.4,82.5L425.9,80.4L430.6,81.3L431.5,82.8L434.1,83.0L437.6,81.5L444.6,79.8L449.9,80.6L455.1,79.8L456.2,77.6L463.0,79.1L467.4,80.1L467.4,77.1L467.0,74.6L470.0,70.9L472.6,68.9L477.0,70.2L477.2,74.6L478.8,79.6L477.0,82.0L476.1,85.7L479.6,83.3L481.4,80.8L480.5,74.6L481.4,70.9L485.8,71.7L487.5,74.6L491.0,72.2L493.7,72.7L495.4,75.9L496.3,72.7L491.9,68.5L500.7,67.5L502.4,64.7L507.7,63.3L516.4,62.0L525.2,61.0L532.7,58.1L537.5,59.8L546.2,60.8L548.9,63.5L542.7,66.5L535.7,69.2L543.6,67.5L548.9,68.5L560.2,69.7L565.5,69.7L572.5,68.5L576.9,70.2L576.0,74.1L577.8,75.1L583.0,73.4L588.3,73.4L593.5,71.4L597.0,70.2L605.8,71.4L612.8,73.4L616.3,74.9L625.1,74.6L630.3,77.8L639.1,78.3L644.3,77.1L648.7,76.9L647.8,79.6L649.6,77.1L658.4,77.6L665.4,79.8L665.4,89.4L662.7,90.4L661.0,89.9L663.6,93.9L664.1,96.1L656.6,97.4L651.3,99.3L648.7,101.8L641.7,102.0L636.5,101.8L638.7,104.3L636.1,106.7L635.6,111.4L633.5,114.1L630.3,118.6L628.0,119.3L625.9,122.8L624.5,124.3L623.3,121.6L622.6,116.6L622.8,111.7L625.1,107.2L628.6,105.5L632.9,101.8L635.6,98.1L637.3,95.9L630.8,97.1L626.8,97.6L624.2,98.8L621.6,102.8L621.6,103.5L618.1,104.0L614.6,103.0L610.2,103.5L604.0,103.3L600.5,103.5L596.2,107.2L591.8,110.4L590.0,114.6L590.5,116.6L594.4,116.1L597.6,118.6L597.7,119.1L597.0,121.6L596.2,125.3L596.0,130.2L592.7,135.1L589.1,138.8L586.5,141.8L583.0,144.3L581.3,143.3L578.9,145.5L579.9,142.6L580.0,139.1L583.2,138.6L584.8,133.9L586.1,130.6L582.1,132.2L579.5,132.2L578.8,129.2L576.9,128.0L573.4,125.9L570.8,120.3L569.0,118.8L566.4,117.9L562.9,118.3L560.4,119.1L561.5,120.1L560.6,122.3L558.7,125.8L556.4,127.7L554.5,126.9L550.6,126.0L547.6,127.7L542.7,128.5L539.0,127.2L535.7,125.5L531.3,126.0L529.2,125.0L529.1,123.3L524.3,121.6L522.2,122.8L521.3,124.0L521.7,126.5L515.7,126.5L512.1,124.5L507.7,126.5L504.2,127.7L503.8,128.6L502.9,128.7L501.0,127.7L499.3,127.5L497.2,124.8L495.4,124.0L492.8,124.6L490.3,124.5L488.4,121.6L486.5,118.3L484.0,115.9L480.3,117.9L478.6,116.6L474.7,116.1L474.2,113.4L470.9,113.2L469.5,114.1L464.8,115.1L460.4,116.4L457.2,116.7L456.9,117.9L458.8,119.1L456.9,120.8L455.1,121.8L457.9,123.3L457.6,124.5L454.9,125.0L452.7,123.8L450.7,124.0L449.0,123.9L447.6,125.0L445.5,124.0L443.6,122.8L441.6,122.3L439.0,122.3L435.3,125.0L435.5,126.5L433.0,125.8L432.0,128.2L432.4,129.7L431.5,130.5L432.9,132.2L434.4,132.2L435.8,134.7L436.2,135.5L434.1,136.9L433.2,137.4L432.3,139.3L431.8,140.3L433.2,143.8L435.1,146.8L433.7,148.2L431.3,146.5L429.7,144.9L427.1,144.8L424.5,143.3L422.7,143.2L420.1,142.9L418.3,141.3L416.2,139.6L414.3,138.1L415.7,137.6L416.6,136.4L416.2,134.9L418.7,133.7L416.9,133.7L417.1,132.6L419.7,131.7L419.7,129.5L420.3,127.5L418.2,126.9L415.7,125.6L412.0,125.3L410.3,122.1L408.2,120.7L405.7,121.3L405.0,118.6L407.3,118.0L404.3,114.9L404.1,112.7L401.5,112.3L399.3,111.3L398.7,108.5L397.9,107.9L398.2,106.0L398.0,104.8L399.1,103.2L399.9,102.3L402.9,102.0L400.8,101.3L399.9,100.6L398.7,100.4L400.8,98.6L402.6,96.9L405.2,94.6L402.7,92.7L402.6,90.7L402.0,88.2L402.7,87.0L401.0,84.8L402.6,82.8L399.9,80.8L400.8,79.6ZM441.1,74.6L443.7,75.6L450.7,75.6L447.2,72.2L448.1,69.2L451.6,66.7L456.9,64.0L465.6,61.0L470.9,60.1L465.6,59.8L458.6,61.5L451.6,63.3L447.2,64.7L446.4,68.5L442.9,70.9L440.2,72.7ZM434.6,78.8L437.2,78.6L436.7,80.1L434.6,79.8ZM453.4,76.4L456.0,76.9L454.8,77.8ZM428.8,51.2L437.6,50.2L437.6,52.4L430.6,51.9ZM441.1,51.7L449.9,50.2L455.1,50.2L451.6,52.2ZM455.1,48.7L463.9,49.4L458.6,50.9ZM516.4,54.9L525.2,52.9L532.2,54.4L527.0,56.6L521.7,56.6ZM511.2,52.4L518.2,49.7L521.7,51.2L516.4,52.9ZM527.0,57.1L534.0,56.6L532.2,58.3ZM590.0,64.3L597.0,62.0L604.0,63.5L600.5,65.0L593.5,65.5ZM605.8,63.8L612.8,64.3L611.0,65.2ZM595.3,67.7L600.5,68.5L597.0,69.2ZM662.7,74.6L665.4,73.4L665.4,74.9ZM598.8,115.9L600.5,119.1L601.1,124.0L603.5,129.5L600.2,133.9L601.4,135.1L598.8,136.4L598.8,132.7L599.0,129.0L598.4,122.8L598.3,118.3ZM604.9,141.8L606.7,140.1L610.2,137.6L607.5,139.6ZM612.8,136.4L616.3,133.2L613.7,135.4ZM622.4,126.0L623.8,124.5L623.0,126.3ZM636.5,105.3L638.2,103.8L637.3,105.3ZM640.5,113.4L641.4,113.9L641.0,114.6ZM643.5,114.6L644.3,115.1L643.8,115.4ZM34.6,79.8L38.1,80.8L43.4,83.5L49.5,84.8L52.7,86.7L47.8,91.2L46.0,91.2L42.5,89.9L41.6,88.2L37.3,88.2L36.4,86.5L34.6,89.4ZM34.6,73.4L39.0,73.9L38.1,74.9L34.6,74.9Z"/>
<path class="c" d="M412.9,161.3L412.9,164.4L413.8,164.7L414.1,165.5L412.7,167.7L412.7,169.1L414.5,170.2L418.0,167.6L421.8,165.0L422.4,160.1L424.2,158.4L421.8,158.4L418.3,159.4L415.2,159.5L414.2,160.5L413.4,161.5Z"/>
<path class="c" d="M412.9,164.4L413.8,164.7L414.1,165.5L412.7,167.7L411.5,168.2L412.2,166.3Z"/>
<path class="d" d="M411.5,168.2L412.7,167.7L412.7,169.1L412.3,170.0L412.2,172.2L412.0,173.4L411.3,177.0L411.1,177.1L410.0,172.9L410.8,171.2L411.3,169.0Z"/>
<path class="c" d="M412.7,169.1L414.5,170.2L418.0,167.6L418.7,170.6L414.8,172.2L416.6,174.7L415.7,175.9L414.4,176.3L413.2,177.9L411.2,177.5L411.3,177.0L412.0,173.4L412.2,172.2L412.3,170.0Z"/>
<path class="c" d="M418.0,167.6L421.8,165.0L422.4,160.1L424.2,158.4L426.2,158.0L428.5,158.2L428.8,160.3L430.8,161.8L429.5,165.0L429.8,166.8L430.8,168.2L433.0,170.0L433.8,171.6L433.6,173.4L434.1,174.7L435.1,176.0L434.0,175.9L433.0,175.7L431.6,178.1L428.3,177.9L423.6,173.2L420.8,171.1L418.7,170.6Z"/>
<path class="c" d="M431.6,178.1L433.0,175.7L434.0,175.9L434.4,177.0L434.8,179.5L433.6,179.5L433.2,178.4Z"/>
<path class="d" d="M428.5,151.9L429.5,153.7L430.8,154.0L431.5,153.9L434.1,151.9L434.6,152.7L434.1,154.2L435.7,155.0L436.7,157.4L438.1,158.1L440.2,159.4L442.9,158.9L444.6,158.6L444.4,157.7L446.0,157.4L448.5,155.9L450.2,155.5L452.5,156.9L453.9,157.4L455.6,159.6L457.2,159.6L457.2,162.1L457.0,164.0L456.1,165.3L456.1,167.0L456.6,170.5L456.6,172.2L458.3,172.4L458.1,173.7L456.6,176.2L458.0,179.0L460.0,180.2L460.0,182.8L460.9,183.1L460.7,184.3L458.4,185.0L457.9,187.8L453.4,187.3L451.3,186.5L449.9,183.3L448.6,182.9L445.8,184.4L443.7,184.1L442.2,182.3L440.2,181.2L439.0,178.6L437.8,175.7L435.8,174.9L435.1,176.0L434.1,174.7L433.6,173.4L433.8,171.6L433.0,170.0L430.8,168.2L429.8,166.8L429.5,165.0L430.8,161.8L428.8,160.3L428.5,158.2L427.6,156.4L428.0,155.2L427.2,152.7Z"/>
<path class="d" d="M411.2,177.5L413.2,177.9L414.4,176.3L415.7,175.9L416.6,174.7L414.8,172.2L418.7,170.6L420.8,171.1L423.6,173.2L428.3,177.9L431.6,178.1L433.2,178.4L433.6,179.5L434.8,179.5L435.7,181.8L437.1,183.6L438.0,184.3L438.0,186.8L439.0,188.9L439.7,189.2L440.4,190.1L440.4,190.2L442.2,193.3L446.7,193.9L447.5,195.7L446.4,200.6L441.1,203.1L436.0,204.1L434.4,205.0L433.2,207.8L432.3,208.1L431.3,207.4L429.4,207.0L427.4,207.0L426.0,206.8L425.7,208.9L425.0,209.5L423.9,206.0L422.2,203.1L420.1,199.9L418.7,196.9L417.5,192.0L416.6,190.5L415.2,187.8L414.1,185.8L412.4,182.3L411.5,180.6L410.6,180.6Z"/>
<path class="b" d="M425.0,209.5L425.7,208.9L426.0,206.8L427.4,207.0L429.4,207.0L431.3,207.4L432.3,208.1L433.2,207.8L434.4,205.0L436.0,204.1L441.1,203.1L443.0,208.9L441.5,211.5L437.6,213.3L436.0,214.1L433.2,216.4L431.5,216.9L428.8,218.4L426.2,218.8L425.8,217.1L425.2,213.4ZM443.6,218.9L445.3,219.0L444.3,219.6Z"/>
<path class="c" d="M443.0,208.9L441.1,203.1L446.4,200.6L447.5,195.7L446.7,193.9L447.8,190.7L447.8,190.2L448.3,188.9L448.7,188.4L450.2,191.0L452.7,191.7L454.8,194.4L453.4,197.6L453.0,199.4L451.3,203.1L449.0,205.5L446.7,206.5L444.8,208.0ZM448.3,185.8L449.0,184.9L448.8,186.5Z"/>
<path class="d" d="M440.4,190.2L442.2,193.3L446.7,193.9L447.8,190.7L447.8,190.2L448.3,188.9L448.7,188.4L448.8,186.8L448.3,185.9L446.9,187.6L445.5,189.5L444.4,190.5L442.2,190.2Z"/>
<path class="c" d="M439.0,188.9L439.7,189.2L440.4,190.1L440.4,188.5L440.4,186.3L439.7,185.4L438.9,187.0Z"/>
<path class="c" d="M502.9,128.7L501.0,127.7L499.3,127.5L497.2,124.8L495.4,124.0L492.8,124.6L490.3,124.5L488.4,121.6L486.5,118.3L484.0,115.9L480.3,117.9L478.6,116.6L474.7,116.1L474.2,113.4L470.9,113.2L469.5,114.1L464.8,115.1L460.4,116.4L457.2,116.7L456.9,117.9L458.8,119.1L456.9,120.8L455.1,121.8L457.9,123.3L457.6,124.5L454.9,125.0L452.7,123.8L450.7,124.0L449.0,123.9L447.6,125.0L445.5,124.0L443.6,122.8L441.6,122.3L439.0,122.3L435.3,125.0L435.5,126.5L433.0,125.8L432.0,128.2L432.4,129.7L431.5,130.5L432.9,132.2L434.4,132.2L435.8,134.7L436.2,135.5L437.6,134.9L440.9,133.9L442.9,134.2L443.0,135.9L442.9,138.1L441.1,137.9L439.4,138.8L439.7,140.1L438.1,140.6L439.7,142.2L442.0,144.3L441.9,146.9L444.6,145.5L447.1,148.0L448.1,148.0L448.1,138.8L452.7,137.5L457.0,140.6L458.6,142.6L463.7,142.1L465.6,143.9L465.8,145.3L466.5,146.3L466.9,148.2L469.0,148.4L469.1,148.7L471.1,147.7L473.0,146.3L474.3,145.6L475.8,144.3L478.8,145.1L478.8,143.8L480.2,143.3L482.6,144.3L484.9,143.9L488.8,144.4L490.5,145.8L491.6,143.3L490.9,139.6L490.3,138.8L494.7,137.9L495.4,133.4L499.8,133.8L500.1,130.5L502.1,128.7Z"/>
<path class="c" d="M448.1,148.0L448.1,138.8L452.7,137.5L457.0,140.6L458.6,142.6L463.7,142.1L465.6,143.9L465.8,145.3L466.5,146.3L466.9,148.2L469.0,148.4L469.1,148.7L471.1,147.7L473.0,146.3L474.3,145.6L473.7,147.7L475.8,147.7L478.1,149.1L476.5,150.2L474.2,150.7L473.3,149.0L471.4,149.3L470.2,151.0L468.1,152.9L469.7,155.4L468.8,158.1L466.5,157.7L466.7,156.1L464.9,155.4L462.5,153.8L459.5,151.4L456.9,148.2L455.3,146.8L455.1,145.8L452.7,144.3L450.6,145.8L449.9,148.0Z"/>
<path class="c" d="M441.9,146.9L444.6,145.5L447.1,148.0L448.1,148.0L449.9,148.0L450.6,145.8L452.7,144.3L455.1,145.8L455.3,146.8L456.9,148.2L459.5,151.4L462.5,153.8L464.9,155.4L466.7,156.1L466.5,157.7L465.1,157.4L463.5,158.4L463.0,160.3L460.6,161.5L459.1,162.8L457.2,162.1L457.2,159.6L455.6,159.6L453.9,157.4L452.5,156.9L450.2,155.5L448.5,155.9L446.0,157.4L444.4,157.7L444.4,153.7L443.2,152.9L443.7,151.2L442.3,150.2L442.7,148.7Z"/>
<path class="b" d="M474.3,145.6L475.8,144.3L478.8,145.1L478.8,143.8L480.2,143.3L482.6,144.3L484.9,143.9L488.8,144.4L490.5,145.8L486.8,148.6L484.6,148.9L481.2,150.1L479.3,151.7L479.0,152.6L476.7,152.9L474.4,152.7L471.8,152.3L473.2,151.2L474.2,150.7L476.5,150.2L478.1,149.1L475.8,147.7L473.7,147.7Z"/>
<path class="b" d="M474.2,150.7L473.2,151.2L471.8,152.3L474.4,152.7L476.7,152.9L479.0,152.6L468.8,158.1L469.7,155.4L468.1,152.9L470.2,151.0L471.4,149.3L473.3,149.0L474.2,150.7L468.8,158.1L469.1,158.6L471.4,158.4L472.6,157.3L474.2,155.2L475.1,156.4L475.4,159.4L477.0,158.9L478.4,157.5L481.2,158.0L481.2,155.2L479.3,154.7L479.0,152.6Z"/>
<path class="n" d="M457.2,162.1L459.1,162.8L460.6,161.5L463.0,160.3L463.5,158.4L465.1,157.4L466.5,157.7L468.8,158.1L469.1,158.6L471.4,158.4L472.6,157.3L474.2,155.2L475.1,156.4L475.4,159.4L477.0,158.9L478.4,157.5L481.2,158.0L480.7,158.6L478.8,158.9L477.0,160.5L475.4,160.1L474.7,161.1L475.4,163.1L474.6,165.0L472.6,166.0L473.2,167.7L471.4,171.2L468.6,172.4L466.3,173.7L466.2,176.3L462.3,177.4L459.5,177.4L456.6,176.2L458.1,173.7L458.3,172.4L456.6,172.2L456.6,170.5L456.1,167.0L456.1,165.3L457.0,164.0Z"/>
<path class="c" d="M457.9,187.8L458.4,185.0L460.7,184.3L460.9,183.1L460.0,182.8L460.0,180.2L458.0,179.0L456.6,176.2L459.5,177.4L462.3,177.4L466.2,176.3L466.3,173.7L468.6,172.4L471.4,171.2L473.2,167.7L472.6,166.0L474.6,165.0L475.4,163.1L474.7,161.1L475.4,160.1L477.0,160.5L478.8,158.9L480.7,158.6L482.3,159.2L483.5,161.5L486.3,162.3L484.6,164.3L480.2,164.2L479.6,168.0L480.7,169.5L481.9,170.2L480.7,173.4L479.5,175.9L477.7,178.4L476.7,180.8L473.3,180.8L471.9,182.8L472.8,186.0L474.4,189.6L470.5,190.1L469.5,191.5L468.3,191.0L467.4,188.7L466.7,187.3L463.0,187.8L459.5,187.8Z"/>
<path class="e" d="M469.5,191.5L470.5,190.1L474.4,189.6L472.8,186.0L471.9,182.8L473.3,180.8L476.7,180.8L477.7,178.4L479.5,175.9L480.7,173.4L481.9,170.2L480.7,169.5L479.6,168.0L480.2,164.2L484.6,164.3L486.3,162.3L488.2,165.0L488.1,167.3L488.9,169.6L487.4,169.7L487.9,172.2L488.4,172.9L490.5,174.4L492.0,175.3L490.9,176.5L490.3,178.9L493.3,181.0L495.9,182.4L498.2,182.6L500.3,184.3L502.4,184.7L504.5,184.8L504.4,181.1L505.6,180.7L505.8,182.6L505.8,183.6L507.3,184.1L508.2,183.7L511.4,183.7L510.6,181.5L512.1,181.2L513.5,179.4L515.7,177.6L517.1,178.2L518.4,177.4L520.6,180.3L519.8,181.8L520.1,183.1L518.5,182.6L516.7,184.3L515.7,187.3L515.9,187.8L515.0,191.1L513.5,190.7L513.5,193.2L513.1,195.2L512.2,195.7L511.7,192.7L511.1,191.7L510.4,193.3L509.8,192.0L510.0,190.5L511.5,190.0L511.9,188.1L508.7,187.8L507.4,187.5L507.4,185.9L506.3,185.5L505.1,184.7L504.5,186.3L504.4,189.2L505.4,190.2L505.4,192.4L505.8,194.2L506.0,196.4L504.4,196.4L502.4,196.9L502.2,198.6L501.5,200.1L498.9,202.3L496.3,206.0L494.2,208.8L492.3,210.5L490.3,212.2L490.7,217.6L489.9,221.6L489.8,224.6L488.8,227.0L487.0,228.0L485.8,230.0L483.7,225.3L481.0,217.9L479.5,211.7L478.4,208.0L477.5,203.1L477.4,198.1L477.0,195.2L476.3,197.6L473.5,198.6L470.9,194.9L472.6,193.4L470.0,192.7ZM512.4,216.7L512.9,216.9L512.6,221.3L512.2,220.9Z"/>
<path class="c" d="M492.0,175.3L490.9,176.5L490.3,178.9L493.3,181.0L495.9,182.4L498.2,182.6L500.3,184.3L502.4,184.7L504.5,184.8L504.4,181.1L501.5,180.8L499.1,179.4L496.3,177.9L492.8,174.9Z"/>
<path class="b" d="M505.8,182.6L505.8,183.6L507.3,184.1L508.2,183.7L511.4,183.7L510.6,181.5L508.6,180.6L506.8,180.6Z"/>
<path class="d" d="M506.0,196.4L505.8,194.2L505.4,192.4L505.4,190.2L504.4,189.2L504.5,186.3L505.1,184.7L506.3,185.5L507.4,185.9L507.4,187.5L508.7,187.8L511.9,188.1L511.5,190.0L510.0,190.5L509.8,192.0L510.4,193.3L511.1,191.7L511.7,192.7L512.2,195.7L512.2,197.4L511.7,198.9L510.8,194.9L509.1,194.9L508.2,196.0Z"/>
<path class="c" d="M490.5,225.8L492.3,229.0L493.4,231.7L493.1,233.9L491.2,235.3L489.9,233.0L489.7,229.7L490.0,227.8Z"/>
<path class="c" d="M511.7,198.9L512.2,197.4L512.2,195.7L513.1,195.2L513.5,193.2L513.5,190.7L515.0,191.1L515.9,187.8L515.7,187.3L516.7,184.3L518.5,182.6L520.1,183.1L519.8,181.8L520.6,180.3L521.9,181.6L522.9,181.8L522.9,185.8L521.0,188.7L521.2,191.0L523.1,190.5L523.3,192.7L524.3,193.4L523.8,195.3L525.6,197.0L527.2,196.7L525.4,199.7L521.9,201.3L521.2,205.5L522.7,209.7L522.0,212.5L523.8,217.6L524.3,221.3L523.0,225.3L522.7,219.9L521.9,215.4L521.0,209.2L519.8,207.3L518.5,209.0L517.1,211.0L515.2,210.5L515.4,204.3L514.2,200.8L512.8,199.9Z"/>
<path class="d" d="M525.4,199.7L526.1,200.2L525.9,201.3L527.3,201.7L527.1,206.8L528.9,205.0L529.9,205.9L531.2,204.6L532.2,204.8L533.4,206.8L533.5,209.2L535.0,211.2L534.8,214.2L534.3,214.6L530.5,214.8L529.3,216.5L530.0,219.1L530.3,221.2L528.2,218.6L526.9,218.8L526.8,216.9L526.1,216.7L525.2,216.9L525.1,219.1L523.7,224.3L524.0,227.0L525.1,227.0L525.9,229.3L526.3,232.2L527.8,233.1L528.9,234.6L527.1,235.8L525.6,233.5L525.4,234.1L524.5,232.2L524.0,231.2L522.2,230.2L522.7,225.8L523.0,225.3L524.3,221.3L523.8,217.6L522.0,212.5L522.7,209.7L521.2,205.5L521.9,201.3Z"/>
<path class="b" d="M525.4,199.7L527.2,196.7L528.4,197.6L529.0,194.7L530.6,197.1L533.3,199.1L532.4,201.5L534.2,204.6L536.7,208.1L538.3,210.0L538.3,212.9L538.4,213.7L535.7,214.6L534.3,214.6L534.8,214.2L535.0,211.2L533.5,209.2L533.4,206.8L532.2,204.8L531.2,204.6L529.9,205.9L528.9,205.0L527.1,206.8L527.3,201.7L525.9,201.3L526.1,200.2Z"/>
<path class="d" d="M529.0,194.7L532.1,194.4L534.6,192.3L536.9,193.6L536.8,195.7L538.3,196.6L539.3,196.8L537.1,198.6L535.3,203.3L536.6,206.3L537.7,208.0L539.6,210.2L541.5,217.9L541.0,222.0L538.0,224.3L536.6,226.5L534.3,228.8L533.7,226.5L534.1,225.5L533.0,224.3L534.1,223.0L536.1,223.2L535.5,221.1L538.3,219.4L538.4,213.7L538.3,212.9L538.3,210.0L536.7,208.1L534.2,204.6L532.4,201.5L533.3,199.1L530.6,197.1Z"/>
<path class="c" d="M530.3,221.2L530.0,219.1L529.3,216.5L530.5,214.8L534.3,214.6L530.6,222.8L531.3,223.8L533.0,224.3L534.1,223.0L536.1,223.2L535.5,221.1L538.3,219.4L538.4,213.7L535.7,214.6L534.3,214.6Z"/>
<path class="d" d="M525.4,234.1L525.6,233.5L527.1,235.8L528.9,234.6L531.2,238.1L531.2,243.6L532.6,246.5L531.3,246.8L529.1,244.6L527.5,242.8L526.3,240.1L525.9,236.9ZM542.1,244.9L543.2,245.9L545.2,244.1L548.0,242.1L549.7,238.8L552.1,237.7L552.4,236.4L553.4,235.2L554.5,232.8L556.2,234.4L556.9,235.6L558.9,237.2L556.6,239.7L556.0,239.7L553.1,239.3L552.4,242.6L551.0,246.3L548.0,246.4L546.4,246.5L545.0,247.5L543.6,247.9L542.5,246.8Z"/>
<path class="d" d="M517.0,236.2L520.8,237.2L522.9,240.7L525.9,244.6L528.2,245.8L531.2,248.8L531.2,252.0L533.1,254.9L535.9,257.9L535.5,264.3L532.7,263.8L529.2,259.6L525.8,252.3L523.1,245.8L520.3,242.1L518.4,239.6ZM534.3,266.8L535.9,264.6L540.3,266.7L543.4,267.2L544.5,265.8L547.3,267.0L550.4,269.1L550.6,271.6L548.0,270.6L543.6,270.0L540.1,269.3L536.4,268.2ZM542.1,244.9L542.5,246.8L543.6,247.9L545.0,247.5L546.4,246.5L548.0,246.4L551.0,246.3L552.4,242.6L553.1,239.3L556.0,239.7L555.9,242.1L556.4,245.6L558.4,247.7L555.9,250.0L554.6,253.1L554.1,257.4L553.4,259.9L550.6,258.6L548.0,257.9L545.9,258.5L542.9,254.2L541.1,250.0L541.0,246.3ZM559.9,247.8L561.6,246.5L565.5,247.5L568.3,246.3L569.5,245.8L569.2,247.5L567.8,249.1L565.5,248.9L562.9,248.9L560.8,249.0L560.3,250.7L561.3,252.7L562.5,252.2L564.1,252.1L566.4,252.0L566.0,252.7L564.4,254.0L563.0,254.7L564.6,257.9L566.0,259.9L565.7,263.1L564.6,263.6L563.7,261.6L562.9,260.1L562.2,256.9L561.3,258.2L561.1,261.4L561.0,263.8L559.2,263.8L559.5,260.9L559.2,258.6L558.0,256.9L558.8,255.2L559.2,253.0L560.0,251.5L559.7,249.8ZM579.9,252.0L582.1,251.0L584.9,252.0L585.3,255.7L587.4,258.3L589.1,255.4L591.8,254.0L597.0,256.4L597.0,272.5L594.4,270.0L591.8,270.5L593.0,266.8L591.8,263.8L587.4,260.9L583.9,259.6L581.3,257.2L584.4,255.9L581.1,254.0L579.3,253.3ZM573.4,244.6L575.5,246.3L574.3,248.5L575.1,250.5L573.9,252.0L573.6,248.0ZM574.3,257.2L579.2,257.4L577.8,258.6L574.3,258.4ZM570.8,257.7L572.9,258.2L571.6,259.4ZM551.5,270.0L552.7,270.7L551.8,271.7L550.6,270.5ZM553.2,270.5L554.5,270.7L553.9,272.0ZM554.6,270.7L558.5,270.5L557.6,271.7L555.0,272.2ZM559.9,270.7L565.1,270.3L564.6,271.7L560.2,271.7ZM558.5,273.2L561.6,274.5L560.2,275.2ZM566.4,275.4L567.8,273.2L569.0,272.0L569.0,273.7ZM535.2,254.2L536.9,256.2L536.2,257.4ZM523.4,253.7L525.7,257.4L524.0,254.9ZM520.3,246.8L521.5,248.0L520.8,248.5ZM585.3,263.6L586.0,265.6L585.1,266.5ZM579.5,268.5L580.7,269.3L580.0,270.0ZM567.9,254.2L569.7,254.7L567.9,254.7Z"/>
<path class="n" d="M569.0,272.0L572.5,270.7L572.0,271.7L569.0,273.7Z"/>
<path class="d" d="M549.9,238.6L552.1,237.7L551.7,239.4L550.8,240.1Z"/>
<path class="b" d="M597.0,256.4L601.6,258.8L605.4,262.8L609.0,266.5L607.5,266.7L609.3,269.9L611.6,272.2L614.4,275.4L612.4,276.1L607.7,273.3L605.8,270.0L603.5,268.8L601.4,270.5L599.8,273.0L597.0,272.5ZM610.0,264.1L612.8,262.4L615.4,260.4L616.8,260.6L616.3,262.8L613.7,265.3L611.0,265.3ZM614.2,256.4L617.2,258.9L618.1,261.6L617.4,259.9ZM621.0,263.6L623.1,266.5L622.1,266.8ZM606.8,254.9L608.2,254.9L607.5,255.4Z"/>
<path class="n" d="M624.2,266.5L625.9,268.0L625.1,268.3ZM628.6,269.8L630.3,271.2L629.4,270.7ZM630.0,273.0L631.7,274.2L630.3,274.2ZM631.4,270.7L632.6,273.2L632.1,273.5ZM632.6,275.2L634.3,276.4L633.1,276.4Z"/>
<path class="n" d="M641.9,287.1L642.9,288.3L642.2,288.5ZM643.1,289.5L644.0,290.8L643.3,290.8ZM644.7,293.5L645.2,294.0L644.7,294.0Z"/>
<path class="n" d="M637.3,299.6L640.0,301.4L642.6,305.1L641.5,305.1L638.7,302.4Z"/>
<path class="b" d="M660.6,293.2L662.9,293.5L662.7,295.0L660.6,294.7ZM663.3,291.5L665.2,290.0L664.1,291.5Z"/>
<path class="d" d="M561.3,204.3L564.1,204.6L564.6,208.0L563.0,210.7L563.0,214.9L564.3,215.2L567.1,215.9L567.4,218.9L566.0,217.9L564.8,217.4L563.2,215.7L561.5,215.9L561.8,213.9L560.4,213.4L560.1,209.7L560.8,210.2L560.9,206.8ZM560.9,216.9L562.9,217.1L562.5,219.6L561.6,218.9ZM555.3,229.3L559.4,221.8L559.5,223.8L556.7,227.8ZM563.6,220.9L565.7,221.6L564.8,224.1L563.7,224.1ZM564.4,225.8L566.4,222.8L565.8,227.5ZM566.2,226.5L567.2,222.3L567.2,224.8ZM567.8,223.1L569.0,221.8L569.5,224.8L568.6,225.1ZM567.8,219.1L569.5,218.9L570.2,222.3L569.0,222.1ZM563.7,232.7L564.3,230.2L566.2,228.5L566.9,230.0L568.5,229.0L569.9,225.8L571.3,229.0L571.8,232.0L571.1,234.4L570.2,232.7L569.7,236.2L567.6,234.7L567.2,231.2L566.2,231.5L565.1,231.5ZM566.9,226.3L568.1,225.3L568.1,226.0Z"/>
<path class="f" d="M563.0,187.5L563.7,189.2L562.7,193.7L561.7,195.9L560.4,193.2L561.5,189.2L562.0,188.0Z"/>
<path class="f" d="M597.7,147.7L595.8,148.2L595.3,151.2L595.1,153.9L593.5,156.4L590.5,157.4L589.5,159.1L587.9,162.1L585.6,161.9L583.2,162.2L581.8,163.6L580.0,165.0L579.3,165.5L579.3,166.1L581.8,166.3L582.1,165.3L584.8,164.5L586.9,164.4L586.7,166.3L587.8,167.4L589.8,165.3L590.0,164.5L592.1,164.5L593.3,164.5L594.8,162.8L594.9,163.6L596.9,161.8L596.3,159.1L597.0,155.4L598.8,152.2L597.9,150.0ZM596.5,146.9L595.3,146.3L594.9,144.8L596.0,143.0L597.6,143.0L598.3,139.8L598.3,137.6L600.5,140.6L602.8,141.1L604.6,140.6L605.4,142.9L603.0,143.8L601.0,146.4L598.3,144.8L597.0,145.3L596.2,145.0L597.2,146.8ZM582.0,167.3L584.6,165.2L585.8,165.6L585.1,167.9L583.9,167.3L583.0,169.1ZM579.3,166.3L580.7,167.0L581.1,169.0L580.2,172.4L579.0,173.4L578.1,172.7L578.1,170.5L577.4,169.2L577.2,167.7L578.5,167.0ZM573.7,185.5L574.8,183.8L574.3,185.3ZM592.3,155.6L592.8,155.9L592.5,156.6Z"/>
<path class="b" d="M578.9,145.5L578.1,143.9L577.2,145.1L574.4,146.3L574.4,147.6L572.3,146.9L570.8,148.9L567.9,151.2L569.4,152.4L569.2,154.7L568.5,155.9L569.5,156.9L570.8,156.9L572.0,156.6L572.7,155.4L574.9,154.7L573.4,152.9L574.3,151.2L577.2,149.1L577.2,147.7Z"/>
<path class="f" d="M574.9,154.7L572.7,155.4L572.0,156.6L570.8,156.9L571.8,157.4L572.0,158.6L571.1,159.1L571.6,159.8L571.3,162.3L571.5,165.0L573.4,164.3L574.3,163.9L576.2,163.3L577.0,161.0L576.8,158.6ZM571.1,167.5L572.3,167.3L571.8,168.0Z"/>
<path class="b" d="M503.8,128.6L505.1,130.7L507.7,131.9L509.4,136.4L509.3,138.4L513.8,139.0L517.1,140.6L518.8,144.4L524.3,144.8L528.4,145.0L534.0,147.2L538.3,145.1L541.5,145.1L543.4,144.7L546.1,142.1L545.2,140.5L546.0,138.7L549.0,139.5L550.6,137.9L552.7,137.7L554.3,135.6L555.7,134.9L560.1,134.5L557.6,131.4L556.4,132.3L552.5,131.7L552.4,131.1L554.5,126.9L550.6,126.0L547.6,127.7L542.7,128.5L539.0,127.2L535.7,125.5L531.3,126.0L529.2,125.0L529.1,123.3L524.3,121.6L522.2,122.8L521.3,124.0L521.7,126.5L515.7,126.5L512.1,124.5L507.7,126.5L504.2,127.7Z"/>
<path class="f" d="M567.9,151.2L570.8,148.9L572.3,146.9L574.4,147.6L574.4,146.3L577.2,145.1L578.1,143.9L578.9,145.5L565.5,152.2L563.0,153.9L562.3,152.4L563.9,149.7L562.0,149.1L559.5,151.4L556.7,153.2L556.2,153.9L558.3,157.6L558.7,156.9L559.4,158.4L561.5,156.6L564.8,158.1L562.0,159.6L560.8,161.0L558.8,164.0L560.8,166.5L561.8,169.5L563.6,172.2L563.6,173.8L561.8,175.0L563.7,176.1L563.0,180.1L561.5,181.0L559.5,187.0L556.9,189.6L554.5,192.3L550.1,194.9L548.9,195.2L545.7,196.6L543.6,197.6L543.1,200.0L542.5,197.0L539.3,196.8L538.3,196.6L536.8,195.7L536.9,193.6L534.6,192.3L532.1,194.4L529.0,194.7L528.4,197.6L527.2,196.7L525.6,197.0L523.8,195.3L524.3,193.4L523.3,192.7L523.1,190.5L521.2,191.0L521.0,188.7L522.9,185.8L522.9,181.8L521.9,181.6L520.6,180.3L518.4,177.4L517.1,178.2L515.7,177.6L513.5,179.4L512.1,181.2L510.6,181.5L508.6,180.6L506.8,180.6L505.8,182.6L505.6,180.7L504.4,181.1L501.5,180.8L499.1,179.4L496.3,177.9L492.8,174.9L492.0,175.3L490.5,174.4L488.4,172.9L487.9,172.2L487.4,169.7L488.9,169.6L488.1,167.3L488.2,165.0L486.3,162.3L483.5,161.5L482.3,159.2L480.7,158.6L481.2,158.0L481.2,155.2L479.3,154.7L479.0,152.6L479.3,151.7L481.2,150.1L484.6,148.9L486.8,148.6L490.5,145.8L491.6,143.3L490.9,139.6L490.3,138.8L494.7,137.9L495.4,133.4L499.8,133.8L500.1,130.5L502.1,128.7L502.9,128.7L503.8,128.6L505.1,130.7L507.7,131.9L509.4,136.4L509.3,138.4L513.8,139.0L517.1,140.6L518.8,144.4L524.3,144.8L528.4,145.0L534.0,147.2L538.3,145.1L541.5,145.1L543.4,144.7L546.1,142.1L545.2,140.5L546.0,138.7L549.0,139.5L550.6,137.9L552.7,137.7L554.3,135.6L555.7,134.9L560.1,134.5L557.6,131.4L556.4,132.3L552.5,131.7L552.4,131.1L554.5,126.9L556.4,127.7L558.7,125.8L560.6,122.3L561.5,120.1L560.4,119.1L562.9,118.3L566.4,117.9L569.0,118.8L570.8,120.3L573.4,125.9L576.9,128.0L578.8,129.2L579.5,132.2L582.1,132.2L586.1,130.6L584.8,133.9L583.2,138.6L580.0,139.1L579.9,142.6L578.9,145.5ZM543.6,200.5L544.5,201.5L543.6,203.6L542.0,205.0L540.4,204.1L540.4,202.3L541.5,200.8Z"/>
<path class="c" d="M326.9,181.7L324.6,185.5L322.1,191.5L320.1,198.6L320.3,197.3L327.2,197.3L327.2,193.2L329.0,192.1L329.0,185.8L334.8,185.8L334.8,182.6L334.8,181.7Z"/>
<path class="c" d="M346.1,163.3L344.7,162.8L342.1,163.1L340.5,161.3L339.7,161.6L338.1,166.0L336.7,167.0L333.8,170.5L332.8,172.2L333.1,174.9L332.1,177.6L330.6,179.0L327.4,181.0L326.9,181.7L334.8,181.7L334.8,179.1L337.7,177.1L340.4,176.1L342.3,174.4L343.7,173.6L343.6,171.8L347.9,170.2L347.0,167.7L347.0,164.8Z"/>
<path class="c" d="M346.1,163.3L348.9,161.7L350.2,161.1L352.3,159.8L355.3,159.1L358.9,159.1L362.1,158.9L363.7,158.7L365.1,158.7L364.5,161.1L364.5,163.6L363.1,166.5L364.5,169.7L365.9,171.0L366.6,175.4L367.3,178.4L367.3,180.8L366.5,185.3L367.9,189.5L371.0,191.9L363.1,198.5L360.2,201.8L357.4,202.7L355.6,201.1L353.2,199.9L352.0,197.9L341.5,188.2L334.8,182.6L334.8,181.7L334.8,179.1L337.7,177.1L340.4,176.1L342.3,174.4L343.7,173.6L343.6,171.8L347.9,170.2L347.0,167.7L347.0,164.8Z"/>
<path class="c" d="M365.1,158.7L367.2,157.9L368.0,159.1L369.4,158.5L368.4,160.3L368.6,161.6L369.4,163.1L367.7,165.3L367.7,166.3L369.4,167.3L370.2,168.1L370.1,170.0L368.0,171.7L367.9,174.2L366.6,175.4L365.9,171.0L364.5,169.7L363.1,166.5L364.5,163.6L364.5,161.1Z"/>
<path class="c" d="M370.2,168.1L373.1,168.7L376.6,170.1L377.5,172.4L380.7,173.7L382.4,174.9L383.6,175.2L385.1,173.8L385.2,170.7L387.8,168.7L390.5,169.5L392.0,171.0L394.1,171.8L393.3,175.4L393.8,177.9L393.8,195.7L393.8,200.6L392.0,200.6L392.0,201.8L378.0,192.1L376.3,193.2L374.9,194.2L373.5,192.7L371.0,191.9L367.9,189.5L366.5,185.3L367.3,180.8L367.3,178.4L366.6,175.4L367.9,174.2L368.0,171.7L370.1,170.0Z"/>
<path class="c" d="M394.1,171.8L397.7,172.6L400.8,173.8L402.4,172.9L404.3,171.9L406.6,172.7L410.0,172.9L411.1,177.1L410.6,180.6L410.0,181.5L408.9,180.1L408.2,179.4L407.2,176.4L407.0,176.0L406.7,176.9L407.1,177.6L408.8,181.1L409.6,184.3L410.1,185.5L412.2,190.8L414.6,195.7L393.8,195.7L393.8,177.9L393.3,175.4Z"/>
<path class="b" d="M414.6,195.7L415.2,198.6L415.3,201.6L415.7,204.1L417.6,205.5L416.4,207.0L414.8,207.9L413.9,212.5L414.0,214.8L413.3,218.6L411.5,220.9L411.2,223.2L410.1,223.9L409.7,226.7L409.5,224.9L408.2,223.3L408.0,219.9L407.4,219.9L406.6,221.1L404.8,225.8L404.0,225.9L401.9,225.1L400.8,226.3L398.9,226.3L396.4,226.5L395.2,224.3L393.4,225.8L393.0,228.0L391.9,228.5L391.2,227.8L391.2,225.1L390.1,223.0L389.1,218.6L388.4,218.8L389.4,215.2L390.1,212.2L392.0,211.2L392.0,201.8L392.0,200.6L393.8,200.6L393.8,195.7Z"/>
<path class="a" d="M391.9,228.5L393.0,228.0L393.4,225.8L395.2,224.3L396.4,226.5L398.9,226.3L400.8,226.3L401.9,225.1L404.0,225.9L404.8,225.8L406.6,221.1L407.4,219.9L408.0,219.9L408.2,223.3L409.5,224.9L409.7,226.7L409.7,228.9L407.8,230.2L409.4,232.2L410.6,233.5L411.8,237.7L412.9,238.6L409.5,239.6L407.8,240.5L406.4,241.2L404.7,240.6L404.0,241.4L403.4,240.5L401.7,238.8L399.8,239.4L398.1,237.5L396.4,235.2L394.3,232.0L392.4,229.5Z"/>
<path class="a" d="M417.6,205.5L418.7,209.2L419.2,211.5L421.0,213.2L423.1,215.7L424.9,217.9L425.5,218.6L424.3,219.2L422.2,216.4L420.1,214.3L418.3,213.9L416.4,213.3L415.9,214.9L414.0,214.8L413.9,212.5L414.8,207.9L416.4,207.0Z"/>
<path class="a" d="M425.5,218.6L426.0,220.6L425.8,221.7L425.2,223.0L423.2,222.8L424.3,219.2Z"/>
<path class="b" d="M414.0,214.8L415.9,214.9L416.4,213.3L418.3,213.9L420.1,214.3L422.2,216.4L424.3,219.2L423.2,222.8L425.2,223.0L424.8,224.1L427.1,227.8L432.3,230.2L434.1,230.2L428.8,237.9L425.3,239.6L423.4,240.2L421.5,239.6L419.2,241.5L416.8,241.1L414.6,239.1L413.1,239.0L412.9,238.6L411.8,237.7L410.6,233.5L409.4,232.2L407.8,230.2L409.7,228.9L409.7,226.7L410.1,223.9L411.2,223.2L411.5,220.9L413.3,218.6Z"/>
<path class="n" d="M425.8,221.7L428.0,224.3L428.8,224.2L432.3,222.6L435.8,222.1L439.5,220.5L439.9,220.7L439.5,224.3L440.1,224.2L437.8,230.0L437.2,231.5L434.1,238.9L430.6,244.1L429.5,244.9L426.2,248.8L424.5,250.9L422.8,254.1L421.8,252.2L421.8,243.1L423.4,240.2L425.3,239.6L428.8,237.9L434.1,230.2L432.3,230.2L427.1,227.8L424.8,224.1L425.2,223.0Z"/>
<path class="n" d="M425.8,221.7L428.0,224.3L428.8,224.2L432.3,222.6L435.8,222.1L435.8,227.8L434.1,230.2L432.3,230.2L427.1,227.8L424.8,224.1L425.2,223.0Z"/>
<path class="c" d="M422.8,254.1L420.4,256.4L420.3,258.2L419.4,260.0L418.7,261.5L415.9,257.4L409.6,252.5L409.4,249.8L409.7,249.1L410.4,247.3L411.3,245.3L411.1,243.8L410.3,240.9L409.5,239.6L412.9,238.6L413.1,239.0L414.6,239.1L416.8,241.1L419.2,241.5L421.5,239.6L423.4,240.2L421.8,243.1L421.8,252.2Z"/>
<path class="a" d="M409.5,239.6L410.3,240.9L411.1,243.8L411.3,245.3L410.4,247.3L409.7,249.1L409.4,249.8L409.6,252.5L403.3,252.6L402.5,253.6L401.9,253.4L401.9,252.2L402.0,250.0L402.5,248.0L404.8,244.6L403.9,244.1L404.0,241.4L404.7,240.6L406.4,241.2L407.8,240.5Z"/>
<path class="b" d="M401.9,253.4L402.5,253.6L403.3,252.6L404.0,255.8L403.4,255.9L402.4,256.9L400.8,256.7Z"/>
<path class="n" d="M400.8,256.7L402.4,256.9L403.4,255.9L404.0,255.8L404.0,258.2L403.3,259.4L402.4,260.9L401.5,261.0L401.2,257.4Z"/>
<path class="b" d="M418.7,261.5L418.0,264.8L418.9,266.8L419.2,269.8L418.9,270.5L419.7,274.7L420.9,275.9L417.5,278.2L415.7,278.9L412.7,278.5L411.2,278.6L410.6,277.2L410.4,274.7L409.6,273.5L407.7,273.2L404.3,271.2L403.9,270.3L402.7,267.3L401.7,264.8L401.5,261.0L402.4,260.9L403.3,259.4L404.0,258.2L404.0,255.8L403.3,252.6L409.6,252.5L415.9,257.4ZM418.7,264.3L419.2,265.1L419.0,265.8ZM419.6,262.1L419.7,263.3L419.5,263.1Z"/>
<path class="b" d="M371.6,264.9L371.4,264.3L371.9,262.6L373.0,261.5L373.5,262.1L375.4,262.1L376.7,260.6L378.0,258.6L378.4,255.4L379.4,253.0L381.0,251.4L381.4,247.5L381.7,244.1L382.6,241.4L382.5,239.4L384.3,237.4L386.1,239.1L389.2,239.7L390.1,238.3L392.7,237.4L394.3,237.7L398.1,237.5L399.8,239.4L401.7,238.8L403.4,240.5L404.0,241.4L403.9,244.1L404.8,244.6L402.5,248.0L402.0,250.0L401.9,252.2L401.9,253.4L400.8,256.7L401.2,257.4L401.5,261.0L401.7,264.8L402.7,267.3L403.9,270.3L400.6,270.9L399.8,272.8L400.2,276.2L399.8,279.3L400.9,280.5L402.2,280.0L402.2,283.2L400.8,283.1L399.8,280.9L398.2,280.3L397.7,278.7L395.6,279.4L394.4,277.7L392.7,278.3L392.0,276.9L388.9,277.4L389.1,275.7L388.2,273.7L388.3,269.8L388.2,268.0L385.9,268.0L386.1,267.2L384.2,267.3L384.0,269.5L380.8,270.0L379.1,267.3L379.1,264.4L372.8,264.4Z"/>
<path class="n" d="M371.6,264.9L372.4,267.3L373.5,270.5L373.1,271.7L374.2,276.4L373.7,280.5L371.9,283.3L371.3,287.5L370.6,292.6L372.8,292.0L374.9,293.0L382.2,293.0L387.5,294.5L391.0,293.5L388.5,290.0L388.5,282.1L392.0,282.1L392.0,276.9L388.9,277.4L389.1,275.7L388.2,273.7L388.3,269.8L388.2,268.0L385.9,268.0L386.1,267.2L384.2,267.3L384.0,269.5L380.8,270.0L379.1,267.3L379.1,264.4L372.8,264.4ZM371.4,264.3L371.0,262.4L372.4,260.9L373.0,261.5L371.9,262.6Z"/>
<path class="b" d="M369.4,259.8L370.8,261.9L371.0,262.4L372.4,260.9L373.0,261.5L373.5,262.1L375.4,262.1L376.7,260.6L378.0,258.6L378.4,255.4L379.4,253.0L381.0,251.4L381.4,247.5L381.7,244.1L382.6,241.4L380.7,241.0L379.1,241.4L378.4,244.5L378.2,245.8L375.4,244.7L373.3,244.6L373.3,246.9L374.9,246.7L375.4,247.8L374.4,250.0L375.4,251.5L375.2,254.7L374.7,256.1L371.9,255.9L370.3,256.9L370.8,258.6Z"/>
<path class="b" d="M369.4,259.8L366.8,255.9L366.3,254.7L365.2,251.7L366.3,251.0L366.6,249.0L366.8,247.5L367.2,247.5L369.9,247.5L369.9,244.6L373.3,244.6L373.3,246.9L374.9,246.7L375.4,247.8L374.4,250.0L375.4,251.5L375.2,254.7L374.7,256.1L371.9,255.9L370.3,256.9L370.8,258.6Z"/>
<path class="n" d="M367.2,247.5L369.9,247.5L369.9,244.6L367.2,244.2ZM364.9,240.9L365.6,240.9L365.2,242.1Z"/>
<path class="a" d="M367.2,244.2L367.0,241.4L366.7,240.1L365.6,238.9L364.9,238.3L365.4,235.7L366.3,234.2L367.9,233.0L369.4,233.9L370.7,232.7L371.5,229.3L373.3,225.1L374.2,222.8L375.6,221.6L374.9,219.4L374.7,217.7L376.1,219.9L376.5,223.1L377.3,225.3L374.5,225.4L374.4,226.3L377.2,231.5L375.6,234.7L375.2,237.2L375.8,238.6L376.5,240.4L378.2,242.8L378.4,244.5L378.2,245.8L375.4,244.7L373.3,244.6L369.9,244.6Z"/>
<path class="a" d="M377.2,231.5L378.9,231.0L380.8,230.4L382.6,230.0L383.3,227.8L385.7,227.5L388.0,223.8L390.1,223.0L391.2,225.1L391.2,227.8L391.9,228.5L392.4,229.5L394.3,232.0L396.4,235.2L398.1,237.5L394.3,237.7L392.7,237.4L390.1,238.3L389.2,239.7L386.1,239.1L384.3,237.4L382.5,239.4L382.6,241.4L380.7,241.0L379.1,241.4L378.4,244.5L378.2,242.8L376.5,240.4L375.8,238.6L375.2,237.2L375.6,234.7Z"/>
<path class="n" d="M373.8,216.2L373.7,214.2L377.2,208.3L377.3,203.1L377.9,199.6L376.3,193.2L378.0,192.1L392.0,201.8L392.0,211.2L390.1,212.2L389.4,215.2L388.4,218.8L389.1,218.6L390.1,223.0L388.0,223.8L385.7,227.5L383.3,227.8L382.6,230.0L380.8,230.4L378.9,231.0L377.2,231.5L374.4,226.3L374.5,225.4L377.3,225.3L376.5,223.1L376.1,219.9L374.7,217.7Z"/>
<path class="n" d="M364.9,238.3L364.5,238.8L362.3,239.1L360.5,239.4L359.3,236.9L358.8,235.4L357.7,234.4L356.0,234.2L354.7,234.3L354.8,230.5L354.7,227.8L356.3,224.8L356.7,223.6L356.3,221.1L357.2,218.9L357.3,216.7L359.6,215.7L362.1,217.9L363.7,217.1L365.8,218.3L368.7,216.9L371.9,217.6L373.8,216.2L374.7,217.7L374.9,219.4L375.6,221.6L374.2,222.8L373.3,225.1L371.5,229.3L370.7,232.7L369.4,233.9L367.9,233.0L366.3,234.2L365.4,235.7Z"/>
<path class="n" d="M356.3,221.1L355.0,219.4L354.2,219.7L353.9,219.4L351.8,216.9L350.4,213.1L352.3,212.2L356.2,211.7L357.4,208.1L357.4,202.7L360.2,201.8L363.1,198.5L371.0,191.9L373.5,192.7L374.9,194.2L376.3,193.2L377.9,199.6L377.3,203.1L377.2,208.3L373.7,214.2L373.8,216.2L371.9,217.6L368.7,216.9L365.8,218.3L363.7,217.1L362.1,217.9L359.6,215.7L357.3,216.7L357.2,218.9Z"/>
<path class="n" d="M357.4,202.7L357.4,208.1L356.2,211.7L352.3,212.2L350.4,213.1L348.8,212.8L346.5,214.9L345.1,215.4L344.0,217.4L342.3,217.6L342.5,218.6L340.7,220.9L340.4,224.2L339.1,224.7L336.0,224.8L335.5,222.8L334.8,221.8L334.2,219.4L332.0,219.9L330.0,219.4L328.6,214.4L328.5,213.6L329.9,211.5L330.9,212.7L333.7,211.7L340.4,211.7L340.7,209.7L340.2,209.2L338.8,188.2L341.5,188.2L352.0,197.9L353.2,199.9L355.6,201.1Z"/>
<path class="a" d="M320.1,198.6L321.6,201.8L322.0,205.3L321.1,210.2L322.8,209.1L324.9,209.0L326.5,210.2L327.6,212.5L328.5,213.6L329.9,211.5L330.9,212.7L333.7,211.7L340.4,211.7L340.7,209.7L340.2,209.2L338.8,188.2L341.5,188.2L334.8,182.6L334.8,185.8L329.0,185.8L329.0,192.1L327.2,193.2L327.2,197.3L320.3,197.3Z"/>
<path class="b" d="M321.1,210.2L320.0,213.2L319.3,213.7L320.6,215.7L320.7,216.4L320.7,217.8L320.7,219.5L322.5,219.2L323.7,218.8L326.0,218.7L328.5,219.6L330.0,219.4L328.6,214.4L328.5,213.6L327.6,212.5L326.5,210.2L324.9,209.0L322.8,209.1Z"/>
<path class="c" d="M320.6,216.4L322.8,215.8L323.7,215.9L325.8,216.7L325.8,217.1L322.8,217.0L320.7,217.8Z"/>
<path class="n" d="M320.7,219.5L322.5,219.2L323.7,218.8L326.0,218.7L326.0,221.1L324.2,221.6L323.7,223.0L322.1,220.9L321.4,220.4Z"/>
<path class="n" d="M323.7,223.0L324.2,221.6L326.0,221.1L326.0,218.7L328.5,219.6L330.0,219.4L332.0,219.9L334.2,219.4L334.8,221.8L335.5,222.8L336.0,224.8L336.5,226.8L335.6,229.0L335.2,231.4L333.5,231.7L333.4,229.4L332.0,229.1L331.3,227.0L330.4,225.3L328.1,225.7L326.7,227.6L326.0,226.5L324.6,224.3Z"/>
<path class="n" d="M326.7,227.6L328.1,225.7L330.4,225.3L331.3,227.0L332.0,229.1L331.4,230.9L329.9,232.9L328.1,231.7L326.8,229.0Z"/>
<path class="a" d="M329.9,232.9L331.4,230.9L332.0,229.1L333.4,229.4L333.5,231.7L335.2,231.4L335.5,234.4L336.8,235.8L337.0,236.9L336.8,239.3L334.2,237.7L331.1,234.4Z"/>
<path class="b" d="M336.8,239.3L339.5,238.1L343.0,237.0L344.6,237.4L345.1,236.2L344.3,233.7L345.6,229.7L345.2,226.2L343.2,225.5L341.9,226.0L340.4,224.2L339.1,224.7L336.0,224.8L336.5,226.8L335.6,229.0L335.2,231.4L335.5,234.4L336.8,235.8L337.0,236.9Z"/>
<path class="b" d="M344.6,237.4L346.5,238.3L349.6,236.3L352.1,234.9L351.0,233.0L350.9,231.5L351.1,229.3L350.7,226.5L350.0,223.8L349.7,222.6L345.1,222.8L345.2,226.2L345.6,229.7L344.3,233.7L345.1,236.2Z"/>
<path class="b" d="M352.1,234.9L352.9,234.6L352.8,232.7L352.9,227.8L352.5,227.0L351.4,224.3L351.6,222.8L349.7,222.6L350.0,223.8L350.7,226.5L351.1,229.3L350.9,231.5L351.0,233.0Z"/>
<path class="a" d="M352.9,234.6L354.7,234.3L354.8,230.5L354.7,227.8L356.3,224.8L356.7,223.6L356.3,221.1L355.0,219.4L354.2,219.7L353.9,219.4L354.2,220.6L351.6,222.8L351.4,224.3L352.5,227.0L352.9,227.8L352.8,232.7Z"/>
<path class="a" d="M340.4,224.2L340.7,220.9L342.5,218.6L342.3,217.6L344.0,217.4L345.1,215.4L346.5,214.9L348.8,212.8L350.4,213.1L351.8,216.9L353.9,219.4L354.2,220.6L351.6,222.8L349.7,222.6L345.1,222.8L345.2,226.2L343.2,225.5L341.9,226.0Z"/>
<path class="b" d="M392.0,276.9L392.0,282.1L388.5,282.1L388.5,290.0L391.0,293.5L392.0,276.9L392.7,278.3L394.4,277.7L395.6,279.4L397.7,278.7L398.2,280.3L399.8,280.9L400.8,283.1L402.2,283.2L402.2,280.0L400.9,280.5L399.8,279.3L400.2,276.2L399.8,272.8L400.6,270.9L403.9,270.3L404.3,271.2L407.7,273.2L408.3,276.7L408.3,278.7L408.4,280.6L407.7,281.6L407.3,283.6L408.2,284.6L402.9,287.1L403.3,288.5L400.6,289.4L397.3,294.2L394.3,294.0L393.3,293.2L391.0,293.5Z"/>
<path class="a" d="M407.7,273.2L409.6,273.5L410.4,274.7L410.6,277.2L411.2,278.6L410.7,281.1L411.1,283.3L412.9,286.8L412.7,289.5L411.8,292.3L411.1,291.2L410.3,290.3L410.0,289.3L410.6,287.8L410.5,285.6L408.2,284.6L407.3,283.6L407.7,281.6L408.4,280.6L408.3,278.7L408.3,276.7Z"/>
<path class="n" d="M420.9,275.9L421.0,281.1L421.5,285.8L421.4,287.1L419.7,290.5L418.5,291.7L414.6,294.2L413.6,296.4L411.1,298.9L410.7,300.6L411.5,303.1L412.2,304.6L412.2,309.0L411.7,310.5L408.9,312.2L407.6,314.1L407.6,316.3L406.2,316.3L406.2,314.2L406.0,314.1L406.0,310.0L404.8,305.4L406.9,302.6L407.8,298.9L407.3,296.9L407.7,292.7L407.7,291.2L404.8,289.5L403.3,288.5L402.9,287.1L408.2,284.6L410.5,285.6L410.6,287.8L410.0,289.3L410.3,290.3L411.1,291.2L411.8,292.3L412.7,289.5L412.9,286.8L411.1,283.3L410.7,281.1L411.2,278.6L412.7,278.5L415.7,278.9L417.5,278.2Z"/>
<path class="b" d="M394.3,294.0L397.3,294.2L400.6,289.4L403.3,288.5L404.8,289.5L407.7,291.2L407.7,292.7L407.3,296.9L407.8,298.9L406.9,302.6L404.8,305.4L401.5,304.8L399.1,303.4L398.5,300.6L395.9,298.4L394.3,295.0Z"/>
<path class="b" d="M394.3,294.0L394.3,295.0L395.9,298.4L398.5,300.6L399.1,303.4L401.5,304.8L399.6,306.1L397.3,308.4L397.1,310.0L395.4,311.1L394.9,313.2L393.3,313.7L390.3,312.5L388.5,315.2L386.4,316.3L385.0,311.1L385.0,304.3L386.8,304.3L386.8,295.2L390.8,295.2L392.7,294.5Z"/>
<path class="b" d="M370.6,292.6L371.9,296.7L373.5,301.6L375.4,306.7L375.4,309.3L376.1,313.0L376.5,315.8L378.8,320.6L380.8,321.0L383.6,321.4L385.0,320.1L385.0,311.1L385.0,304.3L386.8,304.3L386.8,295.2L390.8,295.2L392.7,294.5L394.3,294.0L393.3,293.2L391.0,293.5L387.5,294.5L382.2,293.0L374.9,293.0L372.8,292.0Z"/>
<path class="d" d="M378.8,320.6L380.0,323.4L381.9,328.3L381.4,330.8L382.2,333.7L382.4,334.8L383.8,335.1L385.0,336.0L388.8,334.5L393.4,334.5L394.9,333.9L398.9,331.5L401.7,328.1L403.3,325.8L404.3,323.7L406.2,321.1L407.6,316.3L406.2,316.3L406.0,317.4L404.3,317.2L404.0,315.5L404.5,313.6L406.0,314.1L406.0,310.0L404.8,305.4L401.5,304.8L399.6,306.1L397.3,308.4L397.1,310.0L395.4,311.1L394.9,313.2L393.3,313.7L390.3,312.5L388.5,315.2L386.4,316.3L385.0,311.1L385.0,320.1L383.6,321.4L380.8,321.0Z"/>
<path class="b" d="M406.2,316.3L406.0,317.4L404.3,317.2L404.0,315.5L404.5,313.6L406.0,314.1L406.2,314.2Z"/>
<path class="a" d="M397.3,323.2L398.5,321.4L400.2,320.6L401.6,322.5L401.0,324.1L399.4,324.8L399.2,325.7L398.0,324.8Z"/>
<path class="a" d="M436.4,279.6L438.5,288.3L437.2,291.7L436.5,294.8L435.0,301.9L433.7,306.6L432.3,311.9L429.7,313.1L429.0,313.2L427.1,311.8L426.5,307.7L425.8,304.8L427.6,299.4L427.8,295.7L427.1,292.0L428.7,290.0L431.1,288.8L433.9,286.1L434.3,283.6L435.5,280.9Z"/>
<path class="f" d="M446.7,301.6L447.8,301.9L447.6,302.7L446.9,302.4Z"/>
<path class="n" d="M450.6,299.4L451.3,299.9L450.7,300.6Z"/>
<path class="n" d="M425.7,278.2L426.2,279.4L425.9,279.4Z"/>
<path class="n" d="M307.6,208.3L309.0,212.5L308.3,212.9ZM305.7,207.8L306.4,208.5L305.7,208.5Z"/>
<path class="f" d="M599.7,276.4L601.4,281.6L601.9,285.8L604.6,287.1L605.4,291.7L606.3,296.4L607.2,297.5L610.7,300.6L611.4,302.1L614.2,306.3L614.2,307.8L617.9,312.5L618.2,317.7L619.1,320.8L618.1,325.3L617.2,329.5L615.1,333.5L613.2,338.9L612.7,342.6L608.9,343.7L606.5,346.6L603.9,343.5L601.4,345.8L597.0,344.0L594.8,341.4L594.1,337.9L592.0,337.9L592.7,336.0L591.8,332.0L591.4,330.5L590.0,333.2L588.3,336.0L588.1,336.3L586.9,335.2L585.1,331.5L584.2,329.4L579.8,327.8L576.0,328.3L570.8,329.8L567.2,331.5L566.4,333.9L563.6,333.7L560.2,333.9L556.6,336.6L553.2,336.1L551.7,334.8L551.5,333.0L552.7,329.0L551.5,325.3L550.8,321.1L549.7,317.9L548.2,314.6L548.7,310.5L549.2,305.6L550.0,303.8L550.8,305.6L552.4,303.1L554.5,300.9L557.8,300.1L562.0,298.4L564.1,294.3L565.3,290.5L566.5,292.7L568.1,290.0L570.4,285.6L572.4,284.0L574.4,287.5L576.9,286.6L579.2,280.8L582.3,277.4L588.1,279.6L589.9,280.3L588.1,283.3L587.4,286.8L590.0,289.0L593.9,292.7L596.9,293.2L597.7,289.5L598.1,284.3L598.3,281.1L599.0,277.2ZM603.5,350.5L606.5,351.6L609.8,350.9L609.8,354.2L609.1,356.7L607.2,357.7L604.9,356.0L604.4,354.2L603.5,351.8ZM589.3,338.2L591.1,337.9L592.0,338.7L589.7,338.9ZM578.1,278.2L580.0,277.9L578.8,279.1ZM589.0,284.1L589.8,284.6L589.1,285.3Z"/>
<path class="d" d="M652.6,335.1L655.4,337.2L656.2,341.0L658.0,340.4L658.7,343.0L661.9,342.7L662.8,343.1L661.7,346.6L659.9,347.6L658.9,351.3L657.1,352.8L656.2,352.0L657.0,349.0L654.4,347.1L655.9,345.8L656.1,343.6L655.4,340.4L653.3,336.4ZM652.6,350.0L653.3,352.0L655.4,351.3L655.0,353.2L654.3,354.7L652.7,357.6L653.3,358.2L650.1,359.5L649.1,363.4L647.5,364.9L645.0,365.1L643.5,364.1L641.7,363.4L644.2,360.2L645.9,358.4L648.7,356.2L649.9,354.9L650.8,352.8L651.5,350.8ZM643.6,365.6L644.7,365.8L644.0,366.6Z"/>
</svg>
<div class="ttl">Healthcare costs<br>(million US$)</div>
<div class="sw" style="top:282.00px;background:#c6dbef"></div><div class="lb" style="top:281.80px">0.0 to 1.0</div>
<div class="sw" style="top:293.60px;background:#4a8dbf"></div><div class="lb" style="top:293.55px">1.0 to 10.0</div>
<div class="sw" style="top:305.20px;background:#14509c"></div><div class="lb" style="top:305.30px">10.0 to 100.0</div>
<div class="sw" style="top:316.80px;background:#f4b8a2"></div><div class="lb" style="top:317.05px">100.0 to 500.0</div>
<div class="sw" style="top:328.40px;background:#ea6a4b"></div><div class="lb" style="top:328.80px">500.0 to 1 000.0</div>
<div class="sw" style="top:340.00px;background:#9c1c22"></div><div class="lb" style="top:340.55px">> 1 000.0</div>
<div class="sw" style="top:351.60px;background:#ffffff"></div><div class="lb" style="top:352.30px">Not applicable</div>
</body></html>
